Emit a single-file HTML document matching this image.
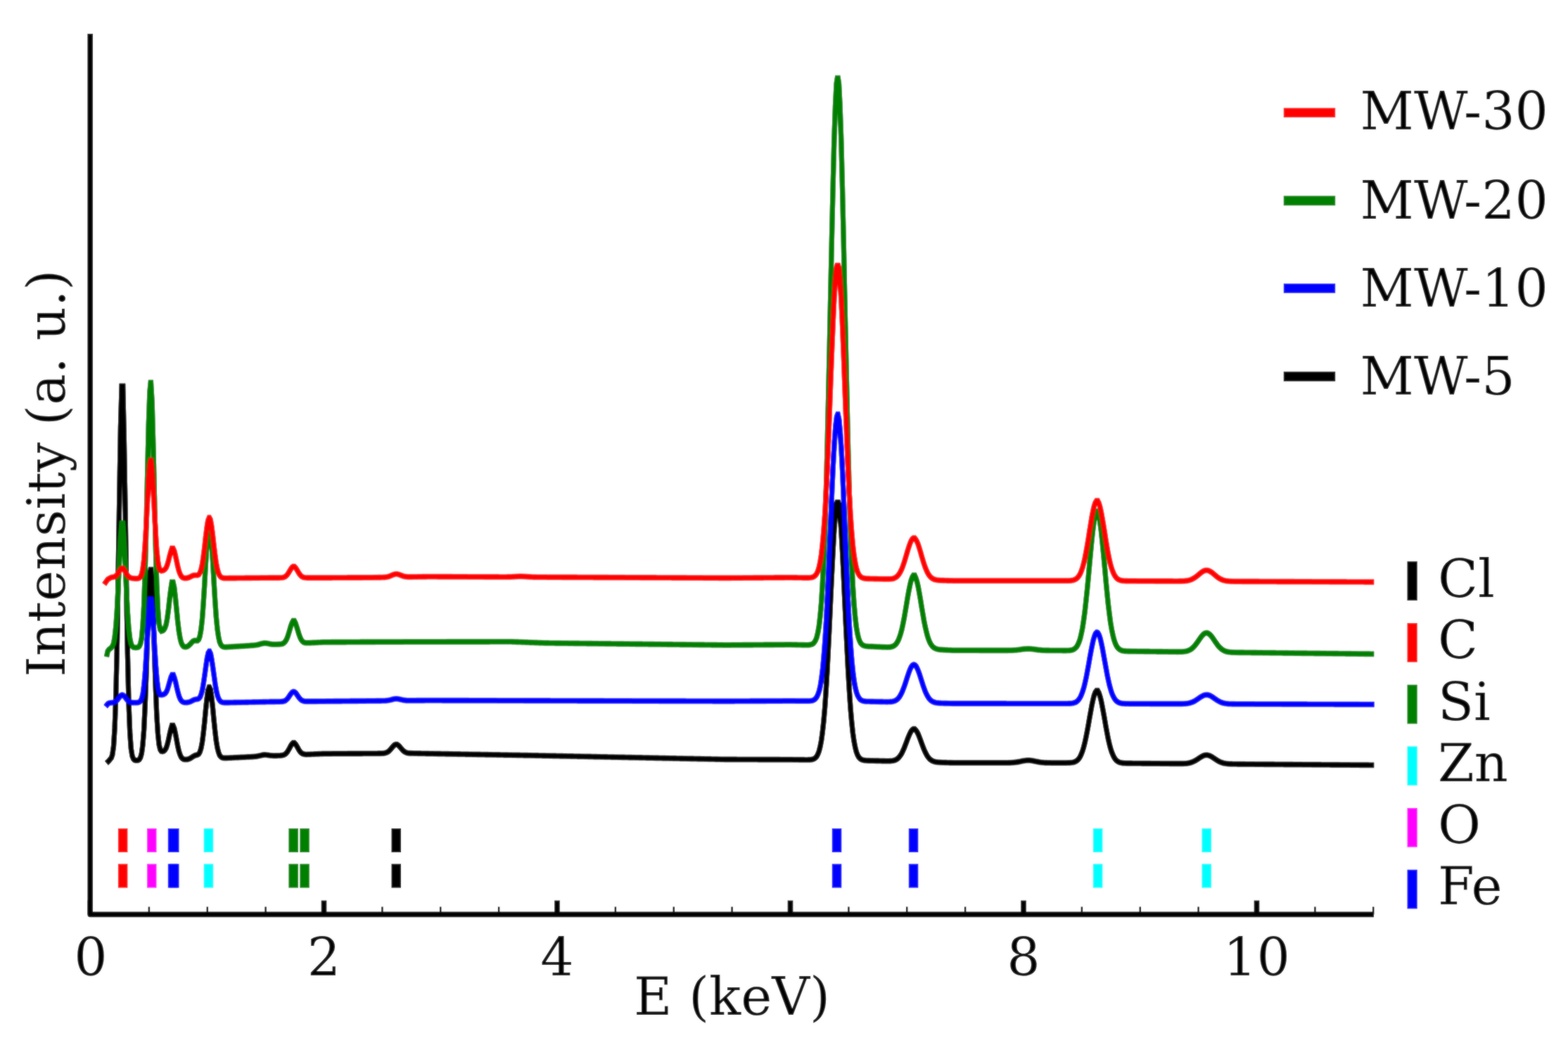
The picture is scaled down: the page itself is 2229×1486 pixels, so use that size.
<!DOCTYPE html>
<html><head><meta charset="utf-8"><title>EDS spectra</title>
<style>html,body{margin:0;padding:0;background:#fff;}body{width:2229px;height:1486px;overflow:hidden;}svg{display:block;}</style>
</head><body>
<svg width="2229" height="1486" viewBox="0 0 2229 1486">
<defs><filter id="soft" x="0" y="0" width="2229" height="1486" filterUnits="userSpaceOnUse"><feGaussianBlur stdDeviation="1"/></filter></defs>
<g id="content">
<rect x="0" y="0" width="2229" height="1486" fill="#ffffff"/>
<g fill="none" stroke="#000000" stroke-width="7.20" stroke-linejoin="miter" stroke-miterlimit="3" stroke-linecap="butt">
<path id="c_black" d="M151.5 1085.0 L153.2 1083.5 L154.9 1081.8 L156.5 1079.7 L158.2 1077.8 L159.8 1073.1 L161.5 1061.1 L163.1 1035.2 L164.8 988.0 L166.5 913.7 L168.1 814.3 L169.8 703.8 L171.4 607.8 L173.1 549.0 L173.8 549.0 L174.7 549.0 L176.4 624.4 L178.1 725.7 L179.7 835.7 L181.4 930.8 L183.0 999.5 L184.7 1041.9 L186.3 1064.5 L188.0 1075.0 L189.7 1079.3 L191.3 1080.8 L193.0 1081.3 L194.6 1081.3 L196.3 1081.0 L198.0 1080.0 L199.6 1077.4 L201.3 1071.6 L202.9 1059.7 L204.6 1038.2 L206.2 1004.4 L207.9 958.2 L209.6 904.7 L211.2 854.1 L212.9 819.4 L214.2 810.0 L214.5 810.0 L216.2 830.4 L217.8 872.7 L219.5 925.6 L221.2 976.4 L222.8 1016.8 L224.5 1043.8 L226.1 1059.0 L227.8 1066.0 L229.4 1068.3 L231.1 1068.6 L231.4 1068.5 L232.8 1068.0 L234.4 1066.7 L236.1 1064.0 L237.7 1059.3 L239.4 1052.6 L241.0 1044.7 L242.7 1037.3 L244.4 1031.5 L245.5 1031.5 L246.0 1031.5 L247.7 1035.5 L249.3 1042.7 L251.0 1051.7 L252.6 1060.6 L254.3 1068.0 L256.0 1073.3 L257.6 1076.7 L259.3 1078.6 L260.9 1079.6 L262.6 1079.9 L264.3 1080.0 L265.9 1079.9 L267.6 1079.5 L269.2 1079.0 L270.9 1078.1 L272.5 1077.1 L274.2 1075.9 L275.9 1074.9 L277.5 1074.2 L278.2 1074.0 L279.2 1073.7 L280.8 1073.3 L282.5 1072.2 L284.1 1069.5 L285.8 1064.2 L287.5 1055.5 L289.1 1042.9 L290.8 1027.0 L292.4 1009.7 L294.1 993.6 L295.7 981.9 L297.4 977.0 L297.6 977.0 L299.1 980.2 L300.7 990.6 L302.4 1005.9 L304.0 1023.2 L305.7 1039.6 L307.3 1053.2 L309.0 1063.3 L310.7 1070.0 L312.3 1074.1 L314.0 1076.2 L315.6 1077.3 L317.3 1077.8 L318.9 1077.9 L320.6 1077.9 L322.3 1077.9 L323.9 1077.8 L325.6 1077.7 L327.2 1077.6 L328.9 1077.6 L330.6 1077.5 L332.2 1077.4 L333.9 1077.3 L335.5 1077.2 L337.2 1077.2 L338.8 1077.1 L340.5 1077.0 L342.2 1076.9 L343.8 1076.8 L345.5 1076.8 L347.1 1076.7 L348.8 1076.6 L350.4 1076.5 L352.1 1076.4 L353.8 1076.4 L355.4 1076.3 L357.1 1076.2 L358.7 1076.1 L360.4 1076.0 L362.0 1075.8 L363.7 1075.7 L365.4 1075.4 L367.0 1075.1 L368.7 1074.7 L370.3 1074.4 L372.0 1074.0 L373.6 1073.6 L375.3 1073.4 L376.0 1073.4 L377.0 1073.4 L378.6 1073.5 L380.3 1073.7 L381.9 1073.9 L383.6 1074.2 L385.2 1074.4 L386.9 1074.5 L388.6 1074.6 L390.2 1074.7 L391.9 1074.6 L393.5 1074.6 L395.2 1074.5 L396.9 1074.5 L398.5 1074.4 L400.2 1074.2 L401.8 1073.9 L403.5 1073.4 L405.1 1072.6 L406.8 1071.2 L408.5 1069.2 L410.1 1066.5 L411.8 1063.5 L413.4 1060.4 L415.1 1057.9 L416.7 1056.4 L417.4 1056.4 L418.4 1056.4 L420.1 1058.1 L421.7 1060.6 L423.4 1063.6 L425.0 1066.5 L426.7 1068.9 L428.3 1070.6 L430.0 1071.7 L431.7 1072.3 L433.3 1072.6 L435.0 1072.8 L436.6 1072.8 L438.3 1072.7 L439.9 1072.7 L441.6 1072.6 L443.3 1072.5 L444.9 1072.5 L446.6 1072.4 L448.2 1072.3 L449.9 1072.2 L451.5 1072.2 L453.2 1072.1 L454.9 1072.0 L456.5 1072.0 L458.2 1071.9 L459.8 1071.8 L461.5 1071.8 L463.2 1071.8 L464.8 1071.8 L466.5 1071.8 L468.1 1071.8 L469.8 1071.8 L471.4 1071.8 L473.1 1071.7 L474.8 1071.7 L476.4 1071.7 L478.1 1071.7 L479.7 1071.7 L481.4 1071.7 L483.0 1071.7 L484.7 1071.7 L486.4 1071.7 L488.0 1071.7 L489.7 1071.7 L491.3 1071.7 L493.0 1071.7 L494.6 1071.6 L496.3 1071.6 L498.0 1071.6 L499.6 1071.6 L501.3 1071.6 L502.9 1071.6 L504.6 1071.6 L506.2 1071.6 L507.9 1071.6 L509.6 1071.6 L511.2 1071.6 L512.9 1071.6 L514.5 1071.6 L516.2 1071.5 L517.8 1071.5 L519.5 1071.5 L521.2 1071.5 L522.8 1071.5 L524.5 1071.5 L526.1 1071.5 L527.8 1071.5 L529.5 1071.5 L531.1 1071.5 L532.8 1071.5 L534.4 1071.5 L536.1 1071.5 L537.7 1071.4 L539.4 1071.4 L541.1 1071.4 L542.7 1071.3 L544.4 1071.3 L546.0 1071.1 L547.7 1070.7 L549.3 1070.2 L551.0 1069.4 L552.7 1068.2 L554.3 1066.6 L556.0 1064.7 L557.6 1062.7 L559.3 1060.8 L560.9 1059.3 L562.6 1058.5 L563.3 1058.5 L564.3 1058.5 L565.9 1059.5 L567.6 1061.1 L569.2 1063.0 L570.9 1065.0 L572.5 1066.8 L574.2 1068.3 L575.9 1069.4 L577.5 1070.2 L579.2 1070.7 L580.8 1070.9 L582.5 1071.1 L584.1 1071.1 L585.8 1071.2 L587.5 1071.2 L589.1 1071.3 L590.8 1071.3 L592.4 1071.3 L594.1 1071.4 L595.8 1071.4 L597.4 1071.4 L599.1 1071.5 L600.7 1071.5 L602.4 1071.5 L604.0 1071.5 L605.7 1071.6 L607.4 1071.6 L609.0 1071.6 L610.7 1071.7 L612.3 1071.7 L614.0 1071.7 L615.6 1071.7 L617.3 1071.8 L619.0 1071.8 L620.6 1071.8 L622.3 1071.9 L623.9 1071.9 L625.6 1071.9 L627.2 1072.0 L628.9 1072.0 L630.6 1072.0 L632.2 1072.0 L633.9 1072.1 L635.5 1072.1 L637.2 1072.1 L638.8 1072.2 L640.5 1072.2 L642.2 1072.2 L643.8 1072.3 L645.5 1072.3 L647.1 1072.3 L648.8 1072.3 L650.4 1072.4 L652.1 1072.4 L653.8 1072.4 L655.4 1072.5 L657.1 1072.5 L658.7 1072.5 L660.4 1072.5 L662.1 1072.6 L663.7 1072.6 L665.4 1072.6 L667.0 1072.7 L668.7 1072.7 L670.3 1072.7 L672.0 1072.8 L673.7 1072.8 L675.3 1072.8 L677.0 1072.8 L678.6 1072.9 L680.3 1072.9 L681.9 1072.9 L683.6 1073.0 L685.3 1073.0 L686.9 1073.0 L688.6 1073.0 L690.2 1073.1 L691.9 1073.1 L693.5 1073.1 L695.2 1073.2 L696.9 1073.2 L698.5 1073.2 L700.2 1073.3 L701.8 1073.3 L703.5 1073.3 L705.1 1073.3 L706.8 1073.4 L708.5 1073.4 L710.1 1073.4 L711.8 1073.5 L713.4 1073.5 L715.1 1073.5 L716.7 1073.6 L718.4 1073.6 L720.1 1073.6 L721.7 1073.6 L723.4 1073.7 L725.0 1073.7 L726.7 1073.7 L728.4 1073.8 L730.0 1073.8 L731.7 1073.8 L733.3 1073.8 L735.0 1073.9 L736.6 1073.9 L738.3 1073.9 L740.0 1074.0 L741.6 1074.0 L743.3 1074.0 L744.9 1074.1 L746.6 1074.1 L748.2 1074.1 L749.9 1074.1 L751.6 1074.2 L753.2 1074.2 L754.9 1074.2 L756.5 1074.3 L758.2 1074.3 L759.8 1074.3 L761.5 1074.4 L763.2 1074.4 L764.8 1074.4 L766.5 1074.5 L768.1 1074.5 L769.8 1074.5 L771.4 1074.6 L773.1 1074.6 L774.8 1074.6 L776.4 1074.7 L778.1 1074.7 L779.7 1074.7 L781.4 1074.8 L783.0 1074.8 L784.7 1074.8 L786.4 1074.9 L788.0 1074.9 L789.7 1074.9 L791.3 1075.0 L793.0 1075.0 L794.7 1075.0 L796.3 1075.1 L798.0 1075.1 L799.6 1075.1 L801.3 1075.2 L802.9 1075.2 L804.6 1075.2 L806.3 1075.3 L807.9 1075.3 L809.6 1075.3 L811.2 1075.4 L812.9 1075.4 L814.5 1075.4 L816.2 1075.5 L817.9 1075.5 L819.5 1075.5 L821.2 1075.6 L822.8 1075.6 L824.5 1075.6 L826.1 1075.7 L827.8 1075.7 L829.5 1075.7 L831.1 1075.8 L832.8 1075.8 L834.4 1075.8 L836.1 1075.9 L837.7 1075.9 L839.4 1075.9 L841.1 1076.0 L842.7 1076.0 L844.4 1076.1 L846.0 1076.1 L847.7 1076.1 L849.3 1076.2 L851.0 1076.2 L852.7 1076.2 L854.3 1076.3 L856.0 1076.3 L857.6 1076.3 L859.3 1076.4 L861.0 1076.4 L862.6 1076.4 L864.3 1076.5 L865.9 1076.5 L867.6 1076.5 L869.2 1076.6 L870.9 1076.6 L872.6 1076.6 L874.2 1076.7 L875.9 1076.7 L877.5 1076.7 L879.2 1076.8 L880.8 1076.8 L882.5 1076.8 L884.2 1076.9 L885.8 1076.9 L887.5 1076.9 L889.1 1077.0 L890.8 1077.0 L892.4 1077.0 L894.1 1077.1 L895.8 1077.1 L897.4 1077.1 L899.1 1077.2 L900.7 1077.2 L902.4 1077.2 L904.0 1077.3 L905.7 1077.3 L907.4 1077.3 L909.0 1077.4 L910.7 1077.4 L912.3 1077.4 L914.0 1077.5 L915.6 1077.5 L917.3 1077.5 L919.0 1077.6 L920.6 1077.6 L922.3 1077.6 L923.9 1077.7 L925.6 1077.7 L927.3 1077.7 L928.9 1077.8 L930.6 1077.8 L932.2 1077.9 L933.9 1077.9 L935.5 1077.9 L937.2 1078.0 L938.9 1078.0 L940.5 1078.0 L942.2 1078.1 L943.8 1078.1 L945.5 1078.1 L947.1 1078.2 L948.8 1078.2 L950.5 1078.2 L952.1 1078.3 L953.8 1078.3 L955.4 1078.3 L957.1 1078.4 L958.7 1078.4 L960.4 1078.4 L962.1 1078.5 L963.7 1078.5 L965.4 1078.5 L967.0 1078.6 L968.7 1078.6 L970.3 1078.6 L972.0 1078.7 L973.7 1078.7 L975.3 1078.7 L977.0 1078.8 L978.6 1078.8 L980.3 1078.8 L981.9 1078.9 L983.6 1078.9 L985.3 1078.9 L986.9 1079.0 L988.6 1079.0 L990.2 1079.0 L991.9 1079.1 L993.6 1079.1 L995.2 1079.1 L996.9 1079.2 L998.5 1079.2 L1000.2 1079.2 L1001.8 1079.3 L1003.5 1079.3 L1005.2 1079.3 L1006.8 1079.4 L1008.5 1079.4 L1010.1 1079.4 L1011.8 1079.5 L1013.4 1079.5 L1015.1 1079.5 L1016.8 1079.6 L1018.4 1079.6 L1020.1 1079.6 L1021.7 1079.7 L1023.4 1079.7 L1025.0 1079.8 L1026.7 1079.8 L1028.4 1079.8 L1030.0 1079.9 L1031.7 1079.9 L1033.3 1079.9 L1035.0 1079.9 L1036.6 1079.9 L1038.3 1079.9 L1040.0 1079.9 L1041.6 1079.9 L1043.3 1079.9 L1044.9 1079.9 L1046.6 1079.9 L1048.2 1080.0 L1049.9 1080.0 L1051.6 1080.0 L1053.2 1080.0 L1054.9 1080.0 L1056.5 1080.0 L1058.2 1080.0 L1059.9 1080.0 L1061.5 1080.0 L1063.2 1080.0 L1064.8 1080.0 L1066.5 1080.0 L1068.1 1080.0 L1069.8 1080.0 L1071.5 1080.0 L1073.1 1080.0 L1074.8 1080.0 L1076.4 1080.0 L1078.1 1080.1 L1079.7 1080.1 L1081.4 1080.1 L1083.1 1080.1 L1084.7 1080.1 L1086.4 1080.1 L1088.0 1080.1 L1089.7 1080.1 L1091.3 1080.1 L1093.0 1080.1 L1094.7 1080.1 L1096.3 1080.1 L1098.0 1080.1 L1099.6 1080.1 L1101.3 1080.1 L1102.9 1080.1 L1104.6 1080.1 L1106.3 1080.1 L1107.9 1080.1 L1109.6 1080.2 L1111.2 1080.2 L1112.9 1080.2 L1114.5 1080.2 L1116.2 1080.2 L1117.9 1080.2 L1119.5 1080.2 L1121.2 1080.2 L1122.8 1080.2 L1124.5 1080.2 L1126.2 1080.2 L1127.8 1080.3 L1129.5 1080.3 L1131.1 1080.3 L1132.8 1080.3 L1134.4 1080.3 L1136.1 1080.4 L1137.8 1080.4 L1139.4 1080.4 L1141.1 1080.4 L1142.7 1080.4 L1144.4 1080.5 L1146.0 1080.5 L1147.7 1080.5 L1149.4 1080.4 L1151.0 1080.4 L1152.7 1080.2 L1154.3 1080.0 L1156.0 1079.5 L1157.6 1078.8 L1159.3 1077.5 L1161.0 1075.6 L1162.6 1072.6 L1164.3 1068.2 L1165.9 1061.9 L1167.6 1053.1 L1169.2 1041.3 L1170.9 1025.8 L1172.6 1006.3 L1174.2 982.5 L1175.9 954.4 L1177.5 922.6 L1179.2 887.9 L1180.8 851.7 L1182.5 815.8 L1184.2 782.3 L1185.8 753.3 L1187.5 731.0 L1189.1 716.8 L1190.8 712.0 L1190.8 712.0 L1192.5 716.9 L1194.1 731.1 L1195.8 753.5 L1197.4 782.5 L1199.1 816.0 L1200.7 851.9 L1202.4 888.2 L1204.1 922.9 L1205.7 954.8 L1207.4 982.9 L1209.0 1006.8 L1210.7 1026.4 L1212.3 1041.9 L1214.0 1053.7 L1215.7 1062.6 L1217.3 1068.9 L1219.0 1073.4 L1220.6 1076.4 L1222.3 1078.4 L1223.9 1079.6 L1225.6 1080.4 L1227.3 1080.9 L1228.9 1081.2 L1230.6 1081.4 L1232.2 1081.5 L1233.9 1081.6 L1235.5 1081.6 L1237.2 1081.7 L1238.9 1081.7 L1240.5 1081.7 L1242.2 1081.8 L1243.8 1081.8 L1245.5 1081.9 L1247.1 1081.9 L1248.8 1081.9 L1250.5 1082.0 L1252.1 1082.0 L1253.8 1082.1 L1255.4 1082.1 L1257.1 1082.1 L1258.8 1082.2 L1260.4 1082.2 L1262.1 1082.2 L1263.7 1082.2 L1265.4 1082.1 L1267.0 1082.0 L1268.7 1081.8 L1270.4 1081.5 L1272.0 1081.0 L1273.7 1080.3 L1275.3 1079.3 L1277.0 1077.9 L1278.6 1076.1 L1280.3 1073.8 L1282.0 1071.0 L1283.6 1067.6 L1285.3 1063.8 L1286.9 1059.6 L1288.6 1055.2 L1290.2 1050.8 L1291.9 1046.6 L1293.6 1042.8 L1295.2 1039.8 L1296.9 1037.7 L1298.5 1036.6 L1299.2 1036.6 L1300.2 1036.6 L1301.8 1038.2 L1303.5 1040.5 L1305.2 1043.8 L1306.8 1047.8 L1308.5 1052.2 L1310.1 1056.7 L1311.8 1061.2 L1313.4 1065.4 L1315.1 1069.2 L1316.8 1072.5 L1318.4 1075.3 L1320.1 1077.6 L1321.7 1079.4 L1323.4 1080.7 L1325.1 1081.8 L1326.7 1082.5 L1328.4 1083.1 L1330.0 1083.5 L1331.7 1083.7 L1333.3 1083.9 L1335.0 1084.0 L1336.7 1084.1 L1338.3 1084.2 L1340.0 1084.3 L1341.6 1084.3 L1343.3 1084.4 L1344.9 1084.4 L1346.6 1084.5 L1348.3 1084.5 L1349.9 1084.6 L1351.6 1084.6 L1353.2 1084.6 L1354.9 1084.7 L1356.5 1084.7 L1358.2 1084.7 L1359.9 1084.7 L1361.5 1084.7 L1363.2 1084.7 L1364.8 1084.7 L1366.5 1084.7 L1368.1 1084.7 L1369.8 1084.7 L1371.5 1084.7 L1373.1 1084.7 L1374.8 1084.7 L1376.4 1084.7 L1378.1 1084.7 L1379.7 1084.7 L1381.4 1084.7 L1383.1 1084.7 L1384.7 1084.7 L1386.4 1084.7 L1388.0 1084.7 L1389.7 1084.7 L1391.4 1084.7 L1393.0 1084.7 L1394.7 1084.7 L1396.3 1084.7 L1398.0 1084.7 L1399.6 1084.7 L1401.3 1084.7 L1403.0 1084.7 L1404.6 1084.7 L1406.3 1084.7 L1407.9 1084.7 L1409.6 1084.7 L1411.2 1084.7 L1412.9 1084.7 L1414.6 1084.7 L1416.2 1084.7 L1417.9 1084.7 L1419.5 1084.7 L1421.2 1084.7 L1422.8 1084.7 L1424.5 1084.7 L1426.2 1084.7 L1427.8 1084.7 L1429.5 1084.7 L1431.1 1084.7 L1432.8 1084.7 L1434.4 1084.6 L1436.1 1084.6 L1437.8 1084.5 L1439.4 1084.4 L1441.1 1084.3 L1442.7 1084.1 L1444.4 1083.9 L1446.0 1083.6 L1447.7 1083.4 L1449.4 1083.0 L1451.0 1082.7 L1452.7 1082.3 L1454.3 1082.0 L1456.0 1081.7 L1457.7 1081.5 L1459.3 1081.3 L1461.0 1081.2 L1461.6 1081.2 L1462.6 1081.2 L1464.3 1081.3 L1465.9 1081.5 L1467.6 1081.8 L1469.3 1082.1 L1470.9 1082.4 L1472.6 1082.8 L1474.2 1083.1 L1475.9 1083.4 L1477.5 1083.7 L1479.2 1084.0 L1480.9 1084.2 L1482.5 1084.3 L1484.2 1084.5 L1485.8 1084.6 L1487.5 1084.6 L1489.1 1084.7 L1490.8 1084.7 L1492.5 1084.7 L1494.1 1084.8 L1495.8 1084.8 L1497.4 1084.8 L1499.1 1084.8 L1500.7 1084.8 L1502.4 1084.8 L1504.1 1084.8 L1505.7 1084.8 L1507.4 1084.8 L1509.0 1084.8 L1510.7 1084.8 L1512.3 1084.8 L1514.0 1084.8 L1515.7 1084.8 L1517.3 1084.7 L1519.0 1084.7 L1520.6 1084.6 L1522.3 1084.5 L1524.0 1084.3 L1525.6 1084.0 L1527.3 1083.6 L1528.9 1082.9 L1530.6 1081.9 L1532.2 1080.5 L1533.9 1078.5 L1535.6 1075.8 L1537.2 1072.3 L1538.9 1067.9 L1540.5 1062.5 L1542.2 1055.9 L1543.8 1048.4 L1545.5 1039.9 L1547.2 1030.7 L1548.8 1021.2 L1550.5 1011.8 L1552.1 1002.9 L1553.8 995.0 L1555.4 988.7 L1557.1 984.3 L1558.8 982.0 L1559.4 982.0 L1560.4 982.0 L1562.1 985.1 L1563.7 989.9 L1565.4 996.6 L1567.0 1004.7 L1568.7 1013.8 L1570.4 1023.3 L1572.0 1032.8 L1573.7 1041.8 L1575.3 1050.2 L1577.0 1057.6 L1578.6 1063.9 L1580.3 1069.2 L1582.0 1073.4 L1583.6 1076.8 L1585.3 1079.3 L1586.9 1081.2 L1588.6 1082.6 L1590.3 1083.5 L1591.9 1084.2 L1593.6 1084.6 L1595.2 1084.9 L1596.9 1085.1 L1598.5 1085.2 L1600.2 1085.3 L1601.9 1085.4 L1603.5 1085.4 L1605.2 1085.4 L1606.8 1085.4 L1608.5 1085.4 L1610.1 1085.5 L1611.8 1085.5 L1613.5 1085.5 L1615.1 1085.5 L1616.8 1085.5 L1618.4 1085.5 L1620.1 1085.5 L1621.7 1085.5 L1623.4 1085.6 L1625.1 1085.6 L1626.7 1085.6 L1628.4 1085.6 L1630.0 1085.6 L1631.7 1085.6 L1633.3 1085.6 L1635.0 1085.6 L1636.7 1085.7 L1638.3 1085.7 L1640.0 1085.7 L1641.6 1085.7 L1643.3 1085.7 L1644.9 1085.7 L1646.6 1085.7 L1648.3 1085.7 L1649.9 1085.8 L1651.6 1085.8 L1653.2 1085.8 L1654.9 1085.8 L1656.6 1085.8 L1658.2 1085.8 L1659.9 1085.8 L1661.5 1085.8 L1663.2 1085.9 L1664.8 1085.9 L1666.5 1085.9 L1668.2 1085.9 L1669.8 1085.9 L1671.5 1085.9 L1673.1 1085.9 L1674.8 1085.9 L1676.4 1085.9 L1678.1 1085.9 L1679.8 1085.9 L1681.4 1085.9 L1683.1 1085.8 L1684.7 1085.7 L1686.4 1085.6 L1688.0 1085.4 L1689.7 1085.1 L1691.4 1084.7 L1693.0 1084.3 L1694.7 1083.7 L1696.3 1083.0 L1698.0 1082.2 L1699.6 1081.3 L1701.3 1080.3 L1703.0 1079.2 L1704.6 1078.1 L1706.3 1077.0 L1707.9 1076.0 L1709.6 1075.1 L1711.2 1074.4 L1712.9 1073.9 L1714.6 1073.7 L1715.2 1073.7 L1716.2 1073.7 L1717.9 1074.1 L1719.5 1074.6 L1721.2 1075.4 L1722.9 1076.3 L1724.5 1077.4 L1726.2 1078.5 L1727.8 1079.6 L1729.5 1080.7 L1731.1 1081.7 L1732.8 1082.7 L1734.5 1083.5 L1736.1 1084.2 L1737.8 1084.7 L1739.4 1085.2 L1741.1 1085.5 L1742.7 1085.8 L1744.4 1086.0 L1746.1 1086.2 L1747.7 1086.3 L1749.4 1086.4 L1751.0 1086.4 L1752.7 1086.5 L1754.3 1086.5 L1756.0 1086.5 L1757.7 1086.5 L1759.3 1086.6 L1761.0 1086.6 L1762.6 1086.6 L1764.3 1086.6 L1765.9 1086.6 L1767.6 1086.6 L1769.3 1086.6 L1770.9 1086.7 L1772.6 1086.7 L1774.2 1086.7 L1775.9 1086.7 L1777.5 1086.7 L1779.2 1086.7 L1780.9 1086.7 L1782.5 1086.7 L1784.2 1086.8 L1785.8 1086.8 L1787.5 1086.8 L1789.2 1086.8 L1790.8 1086.8 L1792.5 1086.8 L1794.1 1086.8 L1795.8 1086.8 L1797.4 1086.9 L1799.1 1086.9 L1800.8 1086.9 L1802.4 1086.9 L1804.1 1086.9 L1805.7 1086.9 L1807.4 1086.9 L1809.0 1086.9 L1810.7 1086.9 L1812.4 1087.0 L1814.0 1087.0 L1815.7 1087.0 L1817.3 1087.0 L1819.0 1087.0 L1820.6 1087.0 L1822.3 1087.0 L1824.0 1087.0 L1825.6 1087.1 L1827.3 1087.1 L1828.9 1087.1 L1830.6 1087.1 L1832.2 1087.1 L1833.9 1087.1 L1835.6 1087.1 L1837.2 1087.1 L1838.9 1087.2 L1840.5 1087.2 L1842.2 1087.2 L1843.8 1087.2 L1845.5 1087.2 L1847.2 1087.2 L1848.8 1087.2 L1850.5 1087.2 L1852.1 1087.3 L1853.8 1087.3 L1855.5 1087.3 L1857.1 1087.3 L1858.8 1087.3 L1860.4 1087.3 L1862.1 1087.3 L1863.7 1087.3 L1865.4 1087.4 L1867.1 1087.4 L1868.7 1087.4 L1870.4 1087.4 L1872.0 1087.4 L1873.7 1087.4 L1875.3 1087.4 L1877.0 1087.4 L1878.7 1087.5 L1880.3 1087.5 L1882.0 1087.5 L1883.6 1087.5 L1885.3 1087.5 L1886.9 1087.5 L1888.6 1087.5 L1890.3 1087.5 L1891.9 1087.6 L1893.6 1087.6 L1895.2 1087.6 L1896.9 1087.6 L1898.5 1087.6 L1900.2 1087.6 L1901.9 1087.6 L1903.5 1087.6 L1905.2 1087.7 L1906.8 1087.7 L1908.5 1087.7 L1910.1 1087.7 L1911.8 1087.7 L1913.5 1087.7 L1915.1 1087.7 L1916.8 1087.7 L1918.4 1087.7 L1920.1 1087.8 L1921.8 1087.8 L1923.4 1087.8 L1925.1 1087.8 L1926.7 1087.8 L1928.4 1087.8 L1930.0 1087.8 L1931.7 1087.8 L1933.4 1087.9 L1935.0 1087.9 L1936.7 1087.9 L1938.3 1087.9 L1940.0 1087.9 L1941.6 1087.9 L1943.3 1087.9 L1945.0 1087.9 L1946.6 1088.0 L1948.3 1088.0 L1949.9 1088.0 L1951.6 1088.0 L1953.2 1088.0"/>
<use href="#c_black" transform="translate(0 -0.7)" opacity="0.5"/>
<use href="#c_black" transform="translate(0 0.7)" opacity="0.5"/>
</g>
<g fill="none" stroke="#0000ff" stroke-width="7.20" stroke-linejoin="miter" stroke-miterlimit="3" stroke-linecap="butt">
<path id="c_blue" d="M150.2 1004.6 L151.9 1002.6 L153.5 1000.7 L155.2 999.8 L156.8 999.5 L158.5 999.2 L160.2 999.0 L161.8 998.7 L163.5 998.1 L165.1 997.0 L166.8 995.4 L168.4 993.2 L170.1 991.0 L171.8 989.1 L173.4 988.2 L173.8 988.2 L175.1 988.6 L176.7 990.1 L178.4 992.3 L180.1 994.6 L181.7 996.4 L183.4 997.7 L185.0 998.5 L186.7 998.9 L188.3 999.1 L190.0 999.2 L191.7 999.2 L193.3 999.2 L195.0 999.1 L196.6 998.9 L198.3 998.2 L199.9 996.6 L201.6 993.0 L203.3 985.6 L204.9 972.7 L206.6 953.0 L208.2 926.8 L209.9 897.5 L211.5 871.3 L213.2 852.0 L214.2 852.0 L214.9 852.0 L216.5 866.9 L218.2 891.5 L219.8 920.3 L221.5 946.7 L223.1 966.7 L224.8 979.3 L226.5 985.7 L228.1 988.0 L229.8 988.2 L231.4 987.8 L231.4 987.8 L233.1 987.2 L234.7 986.2 L236.4 984.0 L238.1 980.3 L239.7 974.8 L241.4 968.6 L243.0 963.1 L244.7 959.5 L245.5 959.5 L246.4 959.5 L248.0 963.8 L249.7 970.1 L251.3 977.5 L253.0 984.5 L254.6 990.2 L256.3 994.2 L258.0 996.7 L259.6 998.0 L261.3 998.7 L262.9 999.0 L264.6 999.0 L266.2 998.9 L267.9 998.6 L269.6 998.1 L271.2 997.5 L272.9 996.6 L274.5 995.8 L276.2 995.0 L277.8 994.6 L278.2 994.5 L279.5 994.3 L281.2 994.0 L282.8 993.2 L284.5 991.1 L286.1 987.0 L287.8 980.3 L289.4 970.8 L291.1 959.2 L292.8 946.8 L294.4 935.8 L296.1 928.3 L297.6 926.0 L297.7 926.0 L299.4 929.5 L301.0 937.8 L302.7 949.4 L304.4 961.8 L306.0 973.3 L307.7 982.7 L309.3 989.5 L311.0 993.9 L312.7 996.5 L314.3 998.0 L316.0 998.7 L317.6 999.0 L319.3 999.1 L320.9 999.1 L322.6 999.1 L324.3 999.1 L325.9 999.1 L327.6 999.0 L329.2 999.0 L330.9 999.0 L332.5 998.9 L334.2 998.9 L335.9 998.9 L337.5 998.8 L339.2 998.8 L340.8 998.8 L342.5 998.8 L344.1 998.7 L345.8 998.7 L347.5 998.7 L349.1 998.6 L350.8 998.6 L352.4 998.6 L354.1 998.5 L355.7 998.5 L357.4 998.5 L359.1 998.4 L360.7 998.4 L362.4 998.4 L364.0 998.3 L365.7 998.3 L367.3 998.3 L369.0 998.2 L370.7 998.2 L372.3 998.2 L374.0 998.1 L375.6 998.1 L377.3 998.1 L379.0 998.0 L380.6 998.0 L382.3 998.0 L383.9 997.9 L385.6 997.9 L387.2 997.9 L388.9 997.9 L390.6 997.9 L392.2 997.8 L393.9 997.8 L395.5 997.8 L397.2 997.8 L398.8 997.7 L400.5 997.6 L402.2 997.4 L403.8 997.0 L405.5 996.3 L407.1 995.1 L408.8 993.4 L410.4 991.2 L412.1 988.6 L413.8 986.2 L415.4 984.4 L417.1 983.5 L417.4 983.5 L418.7 983.9 L420.4 985.3 L422.0 987.6 L423.7 990.1 L425.4 992.4 L427.0 994.3 L428.7 995.7 L430.3 996.5 L432.0 997.0 L433.6 997.3 L435.3 997.4 L437.0 997.4 L438.6 997.4 L440.3 997.4 L441.9 997.4 L443.6 997.4 L445.3 997.4 L446.9 997.4 L448.6 997.4 L450.2 997.4 L451.9 997.3 L453.5 997.3 L455.2 997.3 L456.9 997.3 L458.5 997.3 L460.2 997.3 L461.8 997.3 L463.5 997.2 L465.1 997.2 L466.8 997.2 L468.5 997.2 L470.1 997.2 L471.8 997.2 L473.4 997.2 L475.1 997.1 L476.7 997.1 L478.4 997.1 L480.1 997.1 L481.7 997.1 L483.4 997.1 L485.0 997.1 L486.7 997.0 L488.3 997.0 L490.0 997.0 L491.7 997.0 L493.3 997.0 L495.0 997.0 L496.6 997.0 L498.3 996.9 L499.9 996.9 L501.6 996.9 L503.3 996.9 L504.9 996.9 L506.6 996.9 L508.2 996.9 L509.9 996.8 L511.6 996.8 L513.2 996.8 L514.9 996.8 L516.5 996.8 L518.2 996.8 L519.8 996.8 L521.5 996.7 L523.2 996.7 L524.8 996.7 L526.5 996.7 L528.1 996.7 L529.8 996.7 L531.4 996.7 L533.1 996.7 L534.8 996.6 L536.4 996.6 L538.1 996.6 L539.7 996.6 L541.4 996.6 L543.0 996.5 L544.7 996.5 L546.4 996.5 L548.0 996.4 L549.7 996.2 L551.3 996.0 L553.0 995.7 L554.6 995.4 L556.3 995.0 L558.0 994.5 L559.6 994.1 L561.3 993.8 L562.9 993.7 L563.3 993.7 L564.6 993.7 L566.2 994.0 L567.9 994.3 L569.6 994.7 L571.2 995.1 L572.9 995.4 L574.5 995.7 L576.2 995.9 L577.9 996.1 L579.5 996.2 L581.2 996.2 L582.8 996.2 L584.5 996.2 L586.1 996.2 L587.8 996.2 L589.5 996.2 L591.1 996.2 L592.8 996.1 L594.4 996.1 L596.1 996.1 L597.7 996.1 L599.4 996.1 L601.1 996.1 L602.7 996.1 L604.4 996.0 L606.0 996.0 L607.7 996.0 L609.3 996.0 L611.0 996.0 L612.7 996.0 L614.3 996.0 L616.0 996.0 L617.6 996.0 L619.3 996.0 L620.9 996.0 L622.6 996.0 L624.3 996.0 L625.9 996.0 L627.6 996.0 L629.2 996.1 L630.9 996.1 L632.5 996.1 L634.2 996.1 L635.9 996.1 L637.5 996.1 L639.2 996.1 L640.8 996.1 L642.5 996.1 L644.2 996.1 L645.8 996.1 L647.5 996.1 L649.1 996.1 L650.8 996.1 L652.4 996.1 L654.1 996.1 L655.8 996.1 L657.4 996.1 L659.1 996.1 L660.7 996.1 L662.4 996.1 L664.0 996.1 L665.7 996.1 L667.4 996.2 L669.0 996.2 L670.7 996.2 L672.3 996.2 L674.0 996.2 L675.6 996.2 L677.3 996.2 L679.0 996.2 L680.6 996.2 L682.3 996.2 L683.9 996.2 L685.6 996.2 L687.2 996.2 L688.9 996.2 L690.6 996.2 L692.2 996.2 L693.9 996.2 L695.5 996.2 L697.2 996.2 L698.8 996.2 L700.5 996.2 L702.2 996.2 L703.8 996.2 L705.5 996.2 L707.1 996.3 L708.8 996.3 L710.5 996.3 L712.1 996.3 L713.8 996.3 L715.4 996.3 L717.1 996.3 L718.7 996.3 L720.4 996.3 L722.1 996.3 L723.7 996.3 L725.4 996.3 L727.0 996.3 L728.7 996.3 L730.3 996.3 L732.0 996.3 L733.7 996.3 L735.3 996.3 L737.0 996.3 L738.6 996.3 L740.3 996.3 L741.9 996.3 L743.6 996.3 L745.3 996.4 L746.9 996.4 L748.6 996.4 L750.2 996.4 L751.9 996.4 L753.5 996.4 L755.2 996.4 L756.9 996.4 L758.5 996.4 L760.2 996.4 L761.8 996.4 L763.5 996.4 L765.1 996.4 L766.8 996.4 L768.5 996.4 L770.1 996.4 L771.8 996.4 L773.4 996.4 L775.1 996.4 L776.8 996.4 L778.4 996.4 L780.1 996.4 L781.7 996.4 L783.4 996.5 L785.0 996.5 L786.7 996.5 L788.4 996.5 L790.0 996.5 L791.7 996.5 L793.3 996.5 L795.0 996.5 L796.6 996.5 L798.3 996.5 L800.0 996.5 L801.6 996.5 L803.3 996.5 L804.9 996.5 L806.6 996.5 L808.2 996.5 L809.9 996.5 L811.6 996.5 L813.2 996.5 L814.9 996.5 L816.5 996.5 L818.2 996.5 L819.8 996.5 L821.5 996.6 L823.2 996.6 L824.8 996.6 L826.5 996.6 L828.1 996.6 L829.8 996.6 L831.4 996.6 L833.1 996.6 L834.8 996.6 L836.4 996.6 L838.1 996.6 L839.7 996.6 L841.4 996.6 L843.1 996.6 L844.7 996.6 L846.4 996.6 L848.0 996.6 L849.7 996.6 L851.3 996.6 L853.0 996.6 L854.7 996.6 L856.3 996.6 L858.0 996.6 L859.6 996.7 L861.3 996.7 L862.9 996.7 L864.6 996.7 L866.3 996.7 L867.9 996.7 L869.6 996.7 L871.2 996.7 L872.9 996.7 L874.5 996.7 L876.2 996.7 L877.9 996.7 L879.5 996.7 L881.2 996.7 L882.8 996.7 L884.5 996.7 L886.1 996.7 L887.8 996.7 L889.5 996.7 L891.1 996.7 L892.8 996.7 L894.4 996.7 L896.1 996.7 L897.7 996.7 L899.4 996.8 L901.1 996.8 L902.7 996.8 L904.4 996.8 L906.0 996.8 L907.7 996.8 L909.4 996.8 L911.0 996.8 L912.7 996.8 L914.3 996.8 L916.0 996.8 L917.6 996.8 L919.3 996.8 L921.0 996.8 L922.6 996.8 L924.3 996.8 L925.9 996.8 L927.6 996.8 L929.2 996.8 L930.9 996.8 L932.6 996.8 L934.2 996.8 L935.9 996.8 L937.5 996.9 L939.2 996.9 L940.8 996.9 L942.5 996.9 L944.2 996.9 L945.8 996.9 L947.5 996.9 L949.1 996.9 L950.8 996.9 L952.4 996.9 L954.1 996.9 L955.8 996.9 L957.4 996.9 L959.1 996.9 L960.7 996.9 L962.4 996.9 L964.0 996.9 L965.7 996.9 L967.4 996.9 L969.0 996.9 L970.7 996.9 L972.3 996.9 L974.0 996.9 L975.7 997.0 L977.3 997.0 L979.0 997.0 L980.6 997.0 L982.3 997.0 L983.9 997.0 L985.6 997.0 L987.3 997.0 L988.9 997.0 L990.6 997.0 L992.2 997.0 L993.9 997.0 L995.5 997.0 L997.2 997.0 L998.9 997.0 L1000.5 997.0 L1002.2 997.0 L1003.8 997.0 L1005.5 997.0 L1007.1 997.0 L1008.8 997.0 L1010.5 997.0 L1012.1 997.0 L1013.8 997.1 L1015.4 997.1 L1017.1 997.1 L1018.7 997.1 L1020.4 997.1 L1022.1 997.1 L1023.7 997.1 L1025.4 997.1 L1027.0 997.1 L1028.7 997.1 L1030.3 997.1 L1032.0 997.1 L1033.7 997.1 L1035.3 997.1 L1037.0 997.1 L1038.6 997.1 L1040.3 997.1 L1042.0 997.1 L1043.6 997.1 L1045.3 997.0 L1046.9 997.0 L1048.6 997.0 L1050.2 997.0 L1051.9 997.0 L1053.6 997.0 L1055.2 997.0 L1056.9 997.0 L1058.5 997.0 L1060.2 997.0 L1061.8 997.0 L1063.5 997.0 L1065.2 997.0 L1066.8 996.9 L1068.5 996.9 L1070.1 996.9 L1071.8 996.9 L1073.4 996.9 L1075.1 996.9 L1076.8 996.9 L1078.4 996.9 L1080.1 996.9 L1081.7 996.9 L1083.4 996.9 L1085.0 996.9 L1086.7 996.9 L1088.4 996.9 L1090.0 996.8 L1091.7 996.8 L1093.3 996.8 L1095.0 996.8 L1096.6 996.8 L1098.3 996.8 L1100.0 996.8 L1101.6 996.8 L1103.3 996.8 L1104.9 996.8 L1106.6 996.8 L1108.3 996.8 L1109.9 996.8 L1111.6 996.8 L1113.2 996.7 L1114.9 996.7 L1116.5 996.7 L1118.2 996.7 L1119.9 996.7 L1121.5 996.7 L1123.2 996.7 L1124.8 996.7 L1126.5 996.7 L1128.1 996.7 L1129.8 996.7 L1131.5 996.8 L1133.1 996.8 L1134.8 996.8 L1136.4 996.8 L1138.1 996.8 L1139.7 996.8 L1141.4 996.8 L1143.1 996.8 L1144.7 996.8 L1146.4 996.8 L1148.0 996.8 L1149.7 996.8 L1151.3 996.7 L1153.0 996.5 L1154.7 996.2 L1156.3 995.6 L1158.0 994.7 L1159.6 993.2 L1161.3 990.8 L1162.9 987.2 L1164.6 982.0 L1166.3 974.5 L1167.9 964.1 L1169.6 950.3 L1171.2 932.3 L1172.9 909.8 L1174.6 882.5 L1176.2 850.5 L1177.9 814.5 L1179.5 775.7 L1181.2 735.5 L1182.8 696.2 L1184.5 659.9 L1186.2 629.2 L1187.8 606.1 L1189.5 592.4 L1190.8 589.0 L1191.1 589.0 L1192.8 596.7 L1194.4 614.3 L1196.1 640.7 L1197.8 674.0 L1199.4 711.8 L1201.1 751.8 L1202.7 791.6 L1204.4 829.6 L1206.0 864.0 L1207.7 894.2 L1209.4 919.7 L1211.0 940.4 L1212.7 956.6 L1214.3 969.0 L1216.0 978.2 L1217.6 984.7 L1219.3 989.3 L1221.0 992.3 L1222.6 994.4 L1224.3 995.6 L1225.9 996.4 L1227.6 996.9 L1229.2 997.2 L1230.9 997.4 L1232.6 997.5 L1234.2 997.5 L1235.9 997.5 L1237.5 997.6 L1239.2 997.6 L1240.9 997.6 L1242.5 997.7 L1244.2 997.7 L1245.8 997.8 L1247.5 997.8 L1249.1 997.8 L1250.8 997.9 L1252.5 997.9 L1254.1 997.9 L1255.8 998.0 L1257.4 998.0 L1259.1 998.0 L1260.7 998.1 L1262.4 998.0 L1264.1 998.0 L1265.7 997.9 L1267.4 997.8 L1269.0 997.5 L1270.7 997.1 L1272.3 996.5 L1274.0 995.6 L1275.7 994.3 L1277.3 992.6 L1279.0 990.4 L1280.6 987.6 L1282.3 984.2 L1283.9 980.2 L1285.6 975.7 L1287.3 970.8 L1288.9 965.6 L1290.6 960.5 L1292.2 955.7 L1293.9 951.5 L1295.5 948.1 L1297.2 945.9 L1298.9 945.0 L1299.2 945.0 L1300.5 945.5 L1302.2 947.2 L1303.8 950.2 L1305.5 954.2 L1307.2 958.9 L1308.8 964.0 L1310.5 969.3 L1312.1 974.4 L1313.8 979.2 L1315.4 983.5 L1317.1 987.2 L1318.8 990.3 L1320.4 992.8 L1322.1 994.8 L1323.7 996.3 L1325.4 997.4 L1327.0 998.2 L1328.7 998.8 L1330.4 999.2 L1332.0 999.5 L1333.7 999.6 L1335.3 999.8 L1337.0 999.9 L1338.6 1000.0 L1340.3 1000.0 L1342.0 1000.1 L1343.6 1000.1 L1345.3 1000.1 L1346.9 1000.2 L1348.6 1000.2 L1350.2 1000.3 L1351.9 1000.3 L1353.6 1000.4 L1355.2 1000.4 L1356.9 1000.4 L1358.5 1000.4 L1360.2 1000.4 L1361.8 1000.4 L1363.5 1000.4 L1365.2 1000.4 L1366.8 1000.4 L1368.5 1000.4 L1370.1 1000.4 L1371.8 1000.4 L1373.5 1000.4 L1375.1 1000.4 L1376.8 1000.4 L1378.4 1000.4 L1380.1 1000.4 L1381.7 1000.4 L1383.4 1000.4 L1385.1 1000.4 L1386.7 1000.4 L1388.4 1000.4 L1390.0 1000.4 L1391.7 1000.4 L1393.3 1000.4 L1395.0 1000.4 L1396.7 1000.4 L1398.3 1000.4 L1400.0 1000.4 L1401.6 1000.4 L1403.3 1000.4 L1404.9 1000.4 L1406.6 1000.4 L1408.3 1000.4 L1409.9 1000.4 L1411.6 1000.4 L1413.2 1000.4 L1414.9 1000.4 L1416.5 1000.4 L1418.2 1000.4 L1419.9 1000.4 L1421.5 1000.4 L1423.2 1000.4 L1424.8 1000.4 L1426.5 1000.4 L1428.1 1000.4 L1429.8 1000.4 L1431.5 1000.5 L1433.1 1000.5 L1434.8 1000.5 L1436.4 1000.5 L1438.1 1000.5 L1439.8 1000.5 L1441.4 1000.5 L1443.1 1000.5 L1444.7 1000.5 L1446.4 1000.5 L1448.0 1000.5 L1449.7 1000.5 L1451.4 1000.5 L1453.0 1000.5 L1454.7 1000.5 L1456.3 1000.5 L1458.0 1000.5 L1459.6 1000.5 L1461.3 1000.5 L1463.0 1000.5 L1464.6 1000.5 L1466.3 1000.5 L1467.9 1000.5 L1469.6 1000.5 L1471.2 1000.5 L1472.9 1000.5 L1474.6 1000.5 L1476.2 1000.5 L1477.9 1000.5 L1479.5 1000.5 L1481.2 1000.5 L1482.8 1000.5 L1484.5 1000.5 L1486.2 1000.5 L1487.8 1000.5 L1489.5 1000.5 L1491.1 1000.5 L1492.8 1000.5 L1494.4 1000.5 L1496.1 1000.5 L1497.8 1000.5 L1499.4 1000.5 L1501.1 1000.5 L1502.7 1000.5 L1504.4 1000.5 L1506.1 1000.5 L1507.7 1000.5 L1509.4 1000.5 L1511.0 1000.5 L1512.7 1000.5 L1514.3 1000.5 L1516.0 1000.5 L1517.7 1000.5 L1519.3 1000.4 L1521.0 1000.4 L1522.6 1000.2 L1524.3 1000.0 L1525.9 999.7 L1527.6 999.2 L1529.3 998.5 L1530.9 997.4 L1532.6 995.9 L1534.2 993.8 L1535.9 991.0 L1537.5 987.4 L1539.2 982.8 L1540.9 977.2 L1542.5 970.6 L1544.2 962.9 L1545.8 954.4 L1547.5 945.2 L1549.1 935.8 L1550.8 926.6 L1552.5 918.0 L1554.1 910.5 L1555.8 904.6 L1557.4 900.7 L1559.1 899.0 L1559.4 899.0 L1560.7 899.8 L1562.4 902.8 L1564.1 907.9 L1565.7 914.8 L1567.4 923.1 L1569.0 932.1 L1570.7 941.5 L1572.4 950.8 L1574.0 959.7 L1575.7 967.7 L1577.3 974.8 L1579.0 980.8 L1580.6 985.8 L1582.3 989.8 L1584.0 992.9 L1585.6 995.3 L1587.3 997.0 L1588.9 998.2 L1590.6 999.1 L1592.2 999.7 L1593.9 1000.1 L1595.6 1000.4 L1597.2 1000.5 L1598.9 1000.6 L1600.5 1000.7 L1602.2 1000.7 L1603.8 1000.7 L1605.5 1000.8 L1607.2 1000.8 L1608.8 1000.8 L1610.5 1000.8 L1612.1 1000.8 L1613.8 1000.8 L1615.4 1000.8 L1617.1 1000.8 L1618.8 1000.8 L1620.4 1000.8 L1622.1 1000.8 L1623.7 1000.8 L1625.4 1000.8 L1627.0 1000.8 L1628.7 1000.8 L1630.4 1000.8 L1632.0 1000.8 L1633.7 1000.8 L1635.3 1000.9 L1637.0 1000.9 L1638.7 1000.9 L1640.3 1000.9 L1642.0 1000.9 L1643.6 1000.9 L1645.3 1000.9 L1646.9 1000.9 L1648.6 1000.9 L1650.3 1000.9 L1651.9 1000.9 L1653.6 1000.9 L1655.2 1000.9 L1656.9 1000.9 L1658.5 1000.9 L1660.2 1000.9 L1661.9 1000.9 L1663.5 1000.9 L1665.2 1000.9 L1666.8 1000.9 L1668.5 1000.9 L1670.1 1000.9 L1671.8 1000.9 L1673.5 1000.9 L1675.1 1000.9 L1676.8 1000.9 L1678.4 1000.9 L1680.1 1000.9 L1681.7 1000.8 L1683.4 1000.7 L1685.1 1000.6 L1686.7 1000.5 L1688.4 1000.2 L1690.0 999.9 L1691.7 999.5 L1693.3 999.0 L1695.0 998.4 L1696.7 997.7 L1698.3 996.8 L1700.0 995.8 L1701.6 994.7 L1703.3 993.6 L1705.0 992.4 L1706.6 991.3 L1708.3 990.3 L1709.9 989.4 L1711.6 988.7 L1713.2 988.2 L1714.9 988.0 L1715.2 988.0 L1716.6 988.1 L1718.2 988.5 L1719.9 989.1 L1721.5 989.9 L1723.2 990.9 L1724.8 992.0 L1726.5 993.2 L1728.2 994.3 L1729.8 995.5 L1731.5 996.5 L1733.1 997.4 L1734.8 998.2 L1736.4 998.9 L1738.1 999.5 L1739.8 999.9 L1741.4 1000.3 L1743.1 1000.5 L1744.7 1000.7 L1746.4 1000.9 L1748.0 1001.0 L1749.7 1001.0 L1751.4 1001.1 L1753.0 1001.1 L1754.7 1001.1 L1756.3 1001.2 L1758.0 1001.2 L1759.6 1001.2 L1761.3 1001.2 L1763.0 1001.2 L1764.6 1001.2 L1766.3 1001.2 L1767.9 1001.2 L1769.6 1001.2 L1771.3 1001.2 L1772.9 1001.2 L1774.6 1001.2 L1776.2 1001.2 L1777.9 1001.2 L1779.5 1001.2 L1781.2 1001.2 L1782.9 1001.2 L1784.5 1001.3 L1786.2 1001.3 L1787.8 1001.3 L1789.5 1001.3 L1791.1 1001.3 L1792.8 1001.3 L1794.5 1001.3 L1796.1 1001.3 L1797.8 1001.3 L1799.4 1001.3 L1801.1 1001.3 L1802.7 1001.3 L1804.4 1001.3 L1806.1 1001.3 L1807.7 1001.3 L1809.4 1001.3 L1811.0 1001.3 L1812.7 1001.3 L1814.3 1001.3 L1816.0 1001.3 L1817.7 1001.3 L1819.3 1001.3 L1821.0 1001.3 L1822.6 1001.4 L1824.3 1001.4 L1825.9 1001.4 L1827.6 1001.4 L1829.3 1001.4 L1830.9 1001.4 L1832.6 1001.4 L1834.2 1001.4 L1835.9 1001.4 L1837.6 1001.4 L1839.2 1001.4 L1840.9 1001.4 L1842.5 1001.4 L1844.2 1001.4 L1845.8 1001.4 L1847.5 1001.4 L1849.2 1001.4 L1850.8 1001.4 L1852.5 1001.4 L1854.1 1001.4 L1855.8 1001.4 L1857.4 1001.4 L1859.1 1001.5 L1860.8 1001.5 L1862.4 1001.5 L1864.1 1001.5 L1865.7 1001.5 L1867.4 1001.5 L1869.0 1001.5 L1870.7 1001.5 L1872.4 1001.5 L1874.0 1001.5 L1875.7 1001.5 L1877.3 1001.5 L1879.0 1001.5 L1880.6 1001.5 L1882.3 1001.5 L1884.0 1001.5 L1885.6 1001.5 L1887.3 1001.5 L1888.9 1001.5 L1890.6 1001.5 L1892.2 1001.5 L1893.9 1001.5 L1895.6 1001.5 L1897.2 1001.6 L1898.9 1001.6 L1900.5 1001.6 L1902.2 1001.6 L1903.9 1001.6 L1905.5 1001.6 L1907.2 1001.6 L1908.8 1001.6 L1910.5 1001.6 L1912.1 1001.6 L1913.8 1001.6 L1915.5 1001.6 L1917.1 1001.6 L1918.8 1001.6 L1920.4 1001.6 L1922.1 1001.6 L1923.7 1001.6 L1925.4 1001.6 L1927.1 1001.6 L1928.7 1001.6 L1930.4 1001.6 L1932.0 1001.6 L1933.7 1001.7 L1935.3 1001.7 L1937.0 1001.7 L1938.7 1001.7 L1940.3 1001.7 L1942.0 1001.7 L1943.6 1001.7 L1945.3 1001.7 L1946.9 1001.7 L1948.6 1001.7 L1950.3 1001.7 L1951.9 1001.7 L1953.6 1001.7"/>
<use href="#c_blue" transform="translate(0 -0.7)" opacity="0.5"/>
<use href="#c_blue" transform="translate(0 0.7)" opacity="0.5"/>
</g>
<g fill="none" stroke="#008000" stroke-width="7.20" stroke-linejoin="miter" stroke-miterlimit="3" stroke-linecap="butt">
<path id="c_green" d="M151.5 933.8 L153.2 926.0 L154.9 923.6 L156.5 922.5 L158.2 921.0 L159.8 919.0 L161.5 914.9 L163.1 906.2 L164.8 890.4 L166.5 865.6 L168.1 832.5 L169.8 795.7 L171.4 763.6 L173.1 744.0 L173.8 744.0 L174.7 744.0 L176.4 769.1 L178.1 802.8 L179.7 839.4 L181.4 871.0 L183.0 893.9 L184.7 908.0 L186.3 915.5 L188.0 919.0 L189.7 920.4 L191.3 920.8 L193.0 920.9 L194.6 920.8 L196.3 920.4 L198.0 919.0 L199.6 915.5 L201.3 907.5 L202.9 890.9 L204.6 861.1 L206.2 814.1 L207.9 749.9 L209.6 675.5 L211.2 605.3 L212.9 557.0 L214.2 544.0 L214.5 544.0 L216.2 572.4 L217.8 631.1 L219.5 704.3 L221.2 774.6 L222.8 830.1 L224.5 866.8 L226.1 886.8 L227.8 895.3 L229.4 897.4 L231.1 896.8 L231.4 896.8 L232.8 895.7 L234.4 893.2 L236.1 888.4 L237.7 879.8 L239.4 867.3 L241.0 852.5 L242.7 838.7 L244.4 827.8 L245.5 827.8 L246.0 827.8 L247.7 835.4 L249.3 849.2 L251.0 866.3 L252.6 883.1 L254.3 897.2 L256.0 907.3 L257.6 913.8 L259.3 917.4 L260.9 919.2 L262.6 919.9 L264.3 919.9 L265.9 919.5 L267.6 918.6 L269.2 917.2 L270.9 915.5 L272.5 913.6 L274.2 912.0 L275.9 911.1 L276.5 910.9 L277.5 910.8 L279.2 911.1 L280.8 911.0 L282.5 909.4 L284.1 904.8 L285.8 895.5 L287.5 880.2 L289.1 858.4 L290.8 831.2 L292.4 801.6 L294.1 774.2 L295.7 754.2 L297.4 746.0 L297.6 746.0 L299.1 751.6 L300.7 769.4 L302.4 795.8 L304.0 825.5 L305.7 853.6 L307.3 877.0 L309.0 894.4 L310.7 906.0 L312.3 913.0 L314.0 916.9 L315.6 918.8 L317.3 919.7 L318.9 920.1 L320.6 920.2 L322.3 920.1 L323.9 920.0 L325.6 919.9 L327.2 919.8 L328.9 919.7 L330.6 919.6 L332.2 919.5 L333.9 919.4 L335.5 919.3 L337.2 919.2 L338.8 919.1 L340.5 919.0 L342.2 918.9 L343.8 918.8 L345.5 918.7 L347.1 918.6 L348.8 918.5 L350.4 918.4 L352.1 918.3 L353.8 918.2 L355.4 918.0 L357.1 917.9 L358.7 917.8 L360.4 917.7 L362.0 917.5 L363.7 917.3 L365.4 917.0 L367.0 916.7 L368.7 916.2 L370.3 915.7 L372.0 915.3 L373.6 914.9 L375.3 914.6 L376.0 914.6 L377.0 914.6 L378.6 914.7 L380.3 915.0 L381.9 915.3 L383.6 915.7 L385.2 915.9 L386.9 916.2 L388.6 916.3 L390.2 916.3 L391.9 916.3 L393.5 916.3 L395.2 916.2 L396.9 916.1 L398.5 916.0 L400.2 915.7 L401.8 915.3 L403.5 914.4 L405.1 912.8 L406.8 910.3 L408.5 906.6 L410.1 901.7 L411.8 896.0 L413.4 890.3 L415.1 885.7 L416.7 882.9 L417.4 882.9 L418.4 882.9 L420.1 886.2 L421.7 891.0 L423.4 896.6 L425.0 902.0 L426.7 906.6 L428.3 909.9 L430.0 912.0 L431.7 913.3 L433.3 913.9 L435.0 914.2 L436.6 914.2 L438.3 914.2 L439.9 914.2 L441.6 914.1 L443.3 914.0 L444.9 913.9 L446.6 913.9 L448.2 913.8 L449.9 913.7 L451.5 913.6 L453.2 913.5 L454.9 913.5 L456.5 913.4 L458.2 913.3 L459.8 913.2 L461.5 913.2 L463.2 913.2 L464.8 913.2 L466.5 913.2 L468.1 913.2 L469.8 913.2 L471.4 913.1 L473.1 913.1 L474.8 913.1 L476.4 913.1 L478.1 913.1 L479.7 913.1 L481.4 913.1 L483.0 913.1 L484.7 913.1 L486.4 913.1 L488.0 913.1 L489.7 913.1 L491.3 913.1 L493.0 913.0 L494.6 913.0 L496.3 913.0 L498.0 913.0 L499.6 913.0 L501.3 913.0 L502.9 913.0 L504.6 913.0 L506.2 913.0 L507.9 913.0 L509.6 913.0 L511.2 913.0 L512.9 912.9 L514.5 912.9 L516.2 912.9 L517.8 912.9 L519.5 912.9 L521.2 912.9 L522.8 912.9 L524.5 912.9 L526.1 912.9 L527.8 912.9 L529.5 912.9 L531.1 912.9 L532.8 912.9 L534.4 912.8 L536.1 912.8 L537.7 912.8 L539.4 912.8 L541.1 912.8 L542.7 912.8 L544.4 912.8 L546.0 912.8 L547.7 912.8 L549.3 912.8 L551.0 912.8 L552.7 912.8 L554.3 912.8 L556.0 912.8 L557.6 912.8 L559.3 912.8 L560.9 912.8 L562.6 912.8 L564.3 912.8 L565.9 912.8 L567.6 912.8 L569.2 912.8 L570.9 912.8 L572.5 912.8 L574.2 912.7 L575.9 912.7 L577.5 912.7 L579.2 912.7 L580.8 912.7 L582.5 912.7 L584.1 912.7 L585.8 912.7 L587.5 912.7 L589.1 912.7 L590.8 912.7 L592.4 912.7 L594.1 912.7 L595.8 912.7 L597.4 912.7 L599.1 912.7 L600.7 912.7 L602.4 912.7 L604.0 912.7 L605.7 912.7 L607.4 912.7 L609.0 912.7 L610.7 912.7 L612.3 912.7 L614.0 912.7 L615.6 912.7 L617.3 912.7 L619.0 912.7 L620.6 912.7 L622.3 912.7 L623.9 912.7 L625.6 912.7 L627.2 912.7 L628.9 912.7 L630.6 912.7 L632.2 912.7 L633.9 912.7 L635.5 912.6 L637.2 912.6 L638.8 912.6 L640.5 912.6 L642.2 912.6 L643.8 912.6 L645.5 912.6 L647.1 912.6 L648.8 912.6 L650.4 912.6 L652.1 912.6 L653.8 912.6 L655.4 912.6 L657.1 912.6 L658.7 912.6 L660.4 912.6 L662.1 912.6 L663.7 912.6 L665.4 912.6 L667.0 912.6 L668.7 912.6 L670.3 912.6 L672.0 912.6 L673.7 912.6 L675.3 912.6 L677.0 912.6 L678.6 912.6 L680.3 912.6 L681.9 912.6 L683.6 912.6 L685.3 912.6 L686.9 912.6 L688.6 912.6 L690.2 912.6 L691.9 912.6 L693.5 912.6 L695.2 912.6 L696.9 912.5 L698.5 912.5 L700.2 912.5 L701.8 912.5 L703.5 912.5 L705.1 912.5 L706.8 912.5 L708.5 912.5 L710.1 912.5 L711.8 912.5 L713.4 912.5 L715.1 912.5 L716.7 912.5 L718.4 912.5 L720.1 912.5 L721.7 912.5 L723.4 912.5 L725.0 912.5 L726.7 912.5 L728.4 912.6 L730.0 912.7 L731.7 912.7 L733.3 912.8 L735.0 912.9 L736.6 912.9 L738.3 913.0 L740.0 913.0 L741.6 913.1 L743.3 913.2 L744.9 913.2 L746.6 913.3 L748.2 913.4 L749.9 913.4 L751.6 913.5 L753.2 913.6 L754.9 913.6 L756.5 913.7 L758.2 913.7 L759.8 913.8 L761.5 913.9 L763.2 913.9 L764.8 914.0 L766.5 914.1 L768.1 914.1 L769.8 914.2 L771.4 914.2 L773.1 914.3 L774.8 914.4 L776.4 914.4 L778.1 914.4 L779.7 914.4 L781.4 914.5 L783.0 914.5 L784.7 914.5 L786.4 914.5 L788.0 914.5 L789.7 914.6 L791.3 914.6 L793.0 914.6 L794.7 914.6 L796.3 914.6 L798.0 914.7 L799.6 914.7 L801.3 914.7 L802.9 914.7 L804.6 914.7 L806.3 914.7 L807.9 914.8 L809.6 914.8 L811.2 914.8 L812.9 914.8 L814.5 914.8 L816.2 914.9 L817.9 914.9 L819.5 914.9 L821.2 914.9 L822.8 914.9 L824.5 915.0 L826.1 915.0 L827.8 915.0 L829.5 915.0 L831.1 915.0 L832.8 915.0 L834.4 915.1 L836.1 915.1 L837.7 915.1 L839.4 915.1 L841.1 915.1 L842.7 915.2 L844.4 915.2 L846.0 915.2 L847.7 915.2 L849.3 915.2 L851.0 915.3 L852.7 915.3 L854.3 915.3 L856.0 915.3 L857.6 915.3 L859.3 915.3 L861.0 915.4 L862.6 915.4 L864.3 915.4 L865.9 915.4 L867.6 915.4 L869.2 915.5 L870.9 915.5 L872.6 915.5 L874.2 915.5 L875.9 915.5 L877.5 915.6 L879.2 915.6 L880.8 915.6 L882.5 915.6 L884.2 915.6 L885.8 915.6 L887.5 915.7 L889.1 915.7 L890.8 915.7 L892.4 915.7 L894.1 915.7 L895.8 915.8 L897.4 915.8 L899.1 915.8 L900.7 915.8 L902.4 915.8 L904.0 915.9 L905.7 915.9 L907.4 915.9 L909.0 915.9 L910.7 915.9 L912.3 915.9 L914.0 916.0 L915.6 916.0 L917.3 916.0 L919.0 916.0 L920.6 916.0 L922.3 916.1 L923.9 916.1 L925.6 916.1 L927.3 916.1 L928.9 916.1 L930.6 916.2 L932.2 916.2 L933.9 916.2 L935.5 916.2 L937.2 916.2 L938.9 916.2 L940.5 916.3 L942.2 916.3 L943.8 916.3 L945.5 916.3 L947.1 916.3 L948.8 916.4 L950.5 916.4 L952.1 916.4 L953.8 916.4 L955.4 916.4 L957.1 916.5 L958.7 916.5 L960.4 916.5 L962.1 916.5 L963.7 916.5 L965.4 916.5 L967.0 916.6 L968.7 916.6 L970.3 916.6 L972.0 916.6 L973.7 916.6 L975.3 916.7 L977.0 916.7 L978.6 916.7 L980.3 916.7 L981.9 916.7 L983.6 916.7 L985.3 916.8 L986.9 916.8 L988.6 916.8 L990.2 916.8 L991.9 916.8 L993.6 916.9 L995.2 916.9 L996.9 916.9 L998.5 916.9 L1000.2 916.9 L1001.8 917.0 L1003.5 917.0 L1005.2 917.0 L1006.8 917.0 L1008.5 917.0 L1010.1 917.0 L1011.8 917.1 L1013.4 917.1 L1015.1 917.1 L1016.8 917.1 L1018.4 917.1 L1020.1 917.2 L1021.7 917.2 L1023.4 917.2 L1025.0 917.2 L1026.7 917.2 L1028.4 917.3 L1030.0 917.3 L1031.7 917.3 L1033.3 917.3 L1035.0 917.3 L1036.6 917.3 L1038.3 917.3 L1040.0 917.2 L1041.6 917.2 L1043.3 917.2 L1044.9 917.2 L1046.6 917.2 L1048.2 917.2 L1049.9 917.2 L1051.6 917.2 L1053.2 917.2 L1054.9 917.2 L1056.5 917.1 L1058.2 917.1 L1059.9 917.1 L1061.5 917.1 L1063.2 917.1 L1064.8 917.1 L1066.5 917.1 L1068.1 917.1 L1069.8 917.1 L1071.5 917.0 L1073.1 917.0 L1074.8 917.0 L1076.4 917.0 L1078.1 917.0 L1079.7 917.0 L1081.4 917.0 L1083.1 917.0 L1084.7 917.0 L1086.4 916.9 L1088.0 916.9 L1089.7 916.9 L1091.3 916.9 L1093.0 916.9 L1094.7 916.9 L1096.3 916.9 L1098.0 916.9 L1099.6 916.9 L1101.3 916.8 L1102.9 916.8 L1104.6 916.8 L1106.3 916.8 L1107.9 916.8 L1109.6 916.8 L1111.2 916.8 L1112.9 916.8 L1114.5 916.8 L1116.2 916.7 L1117.9 916.7 L1119.5 916.7 L1121.2 916.7 L1122.8 916.7 L1124.5 916.7 L1126.2 916.8 L1127.8 916.8 L1129.5 916.8 L1131.1 916.9 L1132.8 916.9 L1134.4 917.0 L1136.1 917.0 L1137.8 917.0 L1139.4 917.1 L1141.1 917.1 L1142.7 917.1 L1144.4 917.2 L1146.0 917.2 L1147.7 917.2 L1149.4 917.1 L1151.0 916.9 L1152.7 916.6 L1154.3 916.1 L1156.0 915.1 L1157.6 913.4 L1159.3 910.7 L1161.0 906.4 L1162.6 899.9 L1164.3 890.2 L1165.9 876.3 L1167.6 857.1 L1169.2 831.1 L1170.9 797.1 L1172.6 754.3 L1174.2 701.9 L1175.9 640.3 L1177.5 570.4 L1179.2 494.1 L1180.8 414.7 L1182.5 335.9 L1184.2 262.4 L1185.8 198.8 L1187.5 149.7 L1189.1 118.6 L1190.8 108.0 L1190.8 108.0 L1192.5 118.7 L1194.1 149.8 L1195.8 199.0 L1197.4 262.7 L1199.1 336.3 L1200.7 415.1 L1202.4 494.7 L1204.1 571.0 L1205.7 641.0 L1207.4 702.7 L1209.0 755.1 L1210.7 798.1 L1212.3 832.1 L1214.0 858.1 L1215.7 877.5 L1217.3 891.4 L1219.0 901.2 L1220.6 907.8 L1222.3 912.2 L1223.9 915.0 L1225.6 916.7 L1227.3 917.8 L1228.9 918.4 L1230.6 918.8 L1232.2 919.0 L1233.9 919.2 L1235.5 919.3 L1237.2 919.3 L1238.9 919.4 L1240.5 919.4 L1242.2 919.5 L1243.8 919.6 L1245.5 919.7 L1247.1 919.8 L1248.8 919.8 L1250.5 919.9 L1252.1 920.0 L1253.8 920.1 L1255.4 920.1 L1257.1 920.2 L1258.8 920.2 L1260.4 920.3 L1262.1 920.3 L1263.7 920.2 L1265.4 920.1 L1267.0 919.8 L1268.7 919.3 L1270.4 918.6 L1272.0 917.5 L1273.7 915.9 L1275.3 913.6 L1277.0 910.5 L1278.6 906.4 L1280.3 901.3 L1282.0 895.0 L1283.6 887.5 L1285.3 879.0 L1286.9 869.6 L1288.6 859.7 L1290.2 849.8 L1291.9 840.4 L1293.6 832.0 L1295.2 825.2 L1296.9 820.5 L1298.5 818.0 L1299.2 818.0 L1300.2 818.0 L1301.8 821.5 L1303.5 826.8 L1305.2 834.1 L1306.8 842.9 L1308.5 852.6 L1310.1 862.7 L1311.8 872.7 L1313.4 882.1 L1315.1 890.6 L1316.8 898.0 L1318.4 904.2 L1320.1 909.3 L1321.7 913.3 L1323.4 916.3 L1325.1 918.6 L1326.7 920.3 L1328.4 921.5 L1330.0 922.3 L1331.7 922.9 L1333.3 923.3 L1335.0 923.6 L1336.7 923.8 L1338.3 923.9 L1340.0 924.0 L1341.6 924.1 L1343.3 924.2 L1344.9 924.3 L1346.6 924.4 L1348.3 924.5 L1349.9 924.5 L1351.6 924.6 L1353.2 924.7 L1354.9 924.8 L1356.5 924.8 L1358.2 924.8 L1359.9 924.8 L1361.5 924.8 L1363.2 924.8 L1364.8 924.8 L1366.5 924.8 L1368.1 924.8 L1369.8 924.8 L1371.5 924.8 L1373.1 924.8 L1374.8 924.8 L1376.4 924.8 L1378.1 924.8 L1379.7 924.8 L1381.4 924.8 L1383.1 924.8 L1384.7 924.8 L1386.4 924.8 L1388.0 924.8 L1389.7 924.8 L1391.4 924.8 L1393.0 924.9 L1394.7 924.9 L1396.3 924.9 L1398.0 924.9 L1399.6 924.9 L1401.3 924.9 L1403.0 924.9 L1404.6 924.9 L1406.3 924.9 L1407.9 924.9 L1409.6 924.9 L1411.2 924.9 L1412.9 924.9 L1414.6 924.9 L1416.2 924.9 L1417.9 924.9 L1419.5 924.9 L1421.2 924.9 L1422.8 924.9 L1424.5 924.9 L1426.2 924.9 L1427.8 924.9 L1429.5 924.9 L1431.1 924.9 L1432.8 924.9 L1434.4 924.8 L1436.1 924.8 L1437.8 924.8 L1439.4 924.7 L1441.1 924.6 L1442.7 924.5 L1444.4 924.4 L1446.0 924.2 L1447.7 924.0 L1449.4 923.8 L1451.0 923.6 L1452.7 923.3 L1454.3 923.1 L1456.0 922.9 L1457.7 922.8 L1459.3 922.7 L1461.0 922.6 L1461.6 922.6 L1462.6 922.6 L1464.3 922.7 L1465.9 922.8 L1467.6 923.0 L1469.3 923.2 L1470.9 923.4 L1472.6 923.6 L1474.2 923.9 L1475.9 924.1 L1477.5 924.3 L1479.2 924.4 L1480.9 924.6 L1482.5 924.7 L1484.2 924.8 L1485.8 924.8 L1487.5 924.9 L1489.1 924.9 L1490.8 924.9 L1492.5 925.0 L1494.1 925.0 L1495.8 925.0 L1497.4 925.0 L1499.1 925.0 L1500.7 925.0 L1502.4 925.0 L1504.1 925.0 L1505.7 925.0 L1507.4 925.0 L1509.0 925.0 L1510.7 925.1 L1512.3 925.1 L1514.0 925.1 L1515.7 925.1 L1517.3 925.0 L1519.0 925.0 L1520.6 924.9 L1522.3 924.6 L1524.0 924.3 L1525.6 923.7 L1527.3 922.8 L1528.9 921.5 L1530.6 919.6 L1532.2 916.8 L1533.9 913.0 L1535.6 907.8 L1537.2 901.1 L1538.9 892.6 L1540.5 882.1 L1542.2 869.5 L1543.8 854.9 L1545.5 838.6 L1547.2 820.9 L1548.8 802.6 L1550.5 784.4 L1552.1 767.2 L1553.8 752.1 L1555.4 739.9 L1557.1 731.5 L1558.8 727.0 L1559.4 727.0 L1560.4 727.0 L1562.1 732.9 L1563.7 742.2 L1565.4 755.0 L1567.0 770.7 L1568.7 788.2 L1570.4 806.5 L1572.0 824.8 L1573.7 842.3 L1575.3 858.3 L1577.0 872.5 L1578.6 884.8 L1580.3 894.9 L1582.0 903.1 L1583.6 909.5 L1585.3 914.4 L1586.9 918.0 L1588.6 920.7 L1590.3 922.5 L1591.9 923.8 L1593.6 924.6 L1595.2 925.2 L1596.9 925.5 L1598.5 925.8 L1600.2 925.9 L1601.9 926.0 L1603.5 926.1 L1605.2 926.1 L1606.8 926.1 L1608.5 926.2 L1610.1 926.2 L1611.8 926.2 L1613.5 926.2 L1615.1 926.2 L1616.8 926.3 L1618.4 926.3 L1620.1 926.3 L1621.7 926.3 L1623.4 926.3 L1625.1 926.3 L1626.7 926.4 L1628.4 926.4 L1630.0 926.4 L1631.7 926.4 L1633.3 926.4 L1635.0 926.5 L1636.7 926.5 L1638.3 926.5 L1640.0 926.5 L1641.6 926.5 L1643.3 926.5 L1644.9 926.6 L1646.6 926.6 L1648.3 926.6 L1649.9 926.6 L1651.6 926.6 L1653.2 926.7 L1654.9 926.7 L1656.6 926.7 L1658.2 926.7 L1659.9 926.7 L1661.5 926.8 L1663.2 926.8 L1664.8 926.8 L1666.5 926.8 L1668.2 926.8 L1669.8 926.8 L1671.5 926.8 L1673.1 926.9 L1674.8 926.9 L1676.4 926.8 L1678.1 926.8 L1679.8 926.8 L1681.4 926.7 L1683.1 926.5 L1684.7 926.3 L1686.4 926.0 L1688.0 925.6 L1689.7 925.0 L1691.4 924.2 L1693.0 923.2 L1694.7 922.0 L1696.3 920.5 L1698.0 918.7 L1699.6 916.7 L1701.3 914.5 L1703.0 912.1 L1704.6 909.7 L1706.3 907.3 L1707.9 905.1 L1709.6 903.2 L1711.2 901.6 L1712.9 900.5 L1714.6 900.0 L1715.2 900.0 L1716.2 900.0 L1717.9 900.8 L1719.5 902.0 L1721.2 903.7 L1722.9 905.7 L1724.5 908.0 L1726.2 910.4 L1727.8 912.9 L1729.5 915.2 L1731.1 917.5 L1732.8 919.5 L1734.5 921.2 L1736.1 922.7 L1737.8 923.9 L1739.4 924.9 L1741.1 925.7 L1742.7 926.3 L1744.4 926.7 L1746.1 927.1 L1747.7 927.3 L1749.4 927.5 L1751.0 927.6 L1752.7 927.7 L1754.3 927.7 L1756.0 927.8 L1757.7 927.8 L1759.3 927.8 L1761.0 927.9 L1762.6 927.9 L1764.3 927.9 L1765.9 927.9 L1767.6 927.9 L1769.3 928.0 L1770.9 928.0 L1772.6 928.0 L1774.2 928.0 L1775.9 928.0 L1777.5 928.0 L1779.2 928.1 L1780.9 928.1 L1782.5 928.1 L1784.2 928.1 L1785.8 928.1 L1787.5 928.2 L1789.2 928.2 L1790.8 928.2 L1792.5 928.2 L1794.1 928.2 L1795.8 928.3 L1797.4 928.3 L1799.1 928.3 L1800.8 928.3 L1802.4 928.3 L1804.1 928.3 L1805.7 928.4 L1807.4 928.4 L1809.0 928.4 L1810.7 928.4 L1812.4 928.4 L1814.0 928.5 L1815.7 928.5 L1817.3 928.5 L1819.0 928.5 L1820.6 928.5 L1822.3 928.5 L1824.0 928.6 L1825.6 928.6 L1827.3 928.6 L1828.9 928.6 L1830.6 928.6 L1832.2 928.7 L1833.9 928.7 L1835.6 928.7 L1837.2 928.7 L1838.9 928.7 L1840.5 928.8 L1842.2 928.8 L1843.8 928.8 L1845.5 928.8 L1847.2 928.8 L1848.8 928.8 L1850.5 928.9 L1852.1 928.9 L1853.8 928.9 L1855.5 928.9 L1857.1 928.9 L1858.8 929.0 L1860.4 929.0 L1862.1 929.0 L1863.7 929.0 L1865.4 929.0 L1867.1 929.0 L1868.7 929.1 L1870.4 929.1 L1872.0 929.1 L1873.7 929.1 L1875.3 929.1 L1877.0 929.2 L1878.7 929.2 L1880.3 929.2 L1882.0 929.2 L1883.6 929.2 L1885.3 929.3 L1886.9 929.3 L1888.6 929.3 L1890.3 929.3 L1891.9 929.3 L1893.6 929.3 L1895.2 929.4 L1896.9 929.4 L1898.5 929.4 L1900.2 929.4 L1901.9 929.4 L1903.5 929.5 L1905.2 929.5 L1906.8 929.5 L1908.5 929.5 L1910.1 929.5 L1911.8 929.5 L1913.5 929.6 L1915.1 929.6 L1916.8 929.6 L1918.4 929.6 L1920.1 929.6 L1921.8 929.7 L1923.4 929.7 L1925.1 929.7 L1926.7 929.7 L1928.4 929.7 L1930.0 929.8 L1931.7 929.8 L1933.4 929.8 L1935.0 929.8 L1936.7 929.8 L1938.3 929.8 L1940.0 929.9 L1941.6 929.9 L1943.3 929.9 L1945.0 929.9 L1946.6 929.9 L1948.3 930.0 L1949.9 930.0 L1951.6 930.0 L1953.2 930.0"/>
<use href="#c_green" transform="translate(0 -0.7)" opacity="0.5"/>
<use href="#c_green" transform="translate(0 0.7)" opacity="0.5"/>
</g>
<g fill="none" stroke="#ff0000" stroke-width="7.20" stroke-linejoin="miter" stroke-miterlimit="3" stroke-linecap="butt">
<path id="c_red" d="M148.2 830.8 L149.9 828.5 L151.5 826.2 L153.2 823.9 L154.9 822.8 L156.5 821.9 L158.2 821.1 L159.8 820.8 L161.5 820.5 L163.1 820.0 L164.8 818.9 L166.5 817.1 L168.1 814.6 L169.8 811.9 L171.4 809.6 L173.1 808.2 L173.8 808.2 L174.7 808.2 L176.4 810.2 L178.1 812.9 L179.7 815.8 L181.4 818.3 L183.0 820.1 L184.7 821.2 L186.3 821.9 L188.0 822.3 L189.7 822.5 L191.3 822.6 L193.0 822.7 L194.6 822.7 L196.3 822.5 L198.0 821.9 L199.6 820.4 L201.3 816.7 L202.9 809.4 L204.6 796.1 L206.2 775.1 L207.9 746.5 L209.6 713.3 L211.2 682.0 L212.9 660.5 L214.2 654.7 L214.5 654.7 L216.2 667.3 L217.8 693.5 L219.5 726.1 L221.2 757.4 L222.8 782.1 L224.5 798.3 L226.1 807.1 L227.8 810.8 L229.4 811.7 L231.1 811.4 L231.4 811.3 L232.8 810.8 L234.4 809.7 L236.1 807.5 L237.7 803.6 L239.4 797.9 L241.0 791.1 L242.7 784.7 L244.4 779.7 L245.5 779.7 L246.0 779.7 L247.7 783.2 L249.3 789.6 L251.0 797.4 L252.6 805.2 L254.3 811.7 L256.0 816.3 L257.6 819.3 L259.3 821.0 L260.9 821.8 L262.6 822.1 L264.3 822.1 L265.9 821.9 L267.6 821.5 L269.2 820.9 L270.9 820.1 L272.5 819.3 L274.2 818.5 L275.9 818.1 L276.5 818.0 L277.5 818.0 L279.2 818.0 L280.8 817.9 L282.5 817.1 L284.1 814.7 L285.8 810.1 L287.5 802.4 L289.1 791.7 L290.8 778.2 L292.4 763.5 L294.1 750.0 L295.7 740.1 L297.4 736.0 L297.6 736.0 L299.1 738.7 L300.7 747.6 L302.4 760.6 L304.0 775.3 L305.7 789.2 L307.3 800.8 L309.0 809.4 L310.7 815.1 L312.3 818.6 L314.0 820.5 L315.6 821.5 L317.3 821.9 L318.9 822.1 L320.6 822.2 L322.3 822.2 L323.9 822.2 L325.6 822.1 L327.2 822.1 L328.9 822.1 L330.6 822.1 L332.2 822.1 L333.9 822.1 L335.5 822.1 L337.2 822.0 L338.8 822.0 L340.5 822.0 L342.2 822.0 L343.8 822.0 L345.5 822.0 L347.1 822.0 L348.8 821.9 L350.4 821.9 L352.1 821.9 L353.8 821.9 L355.4 821.9 L357.1 821.9 L358.7 821.8 L360.4 821.8 L362.0 821.8 L363.7 821.8 L365.4 821.8 L367.0 821.8 L368.7 821.8 L370.3 821.7 L372.0 821.7 L373.6 821.7 L375.3 821.7 L377.0 821.7 L378.6 821.7 L380.3 821.7 L381.9 821.6 L383.6 821.6 L385.2 821.6 L386.9 821.6 L388.6 821.6 L390.2 821.6 L391.9 821.6 L393.5 821.6 L395.2 821.6 L396.9 821.6 L398.5 821.5 L400.2 821.5 L401.8 821.3 L403.5 820.9 L405.1 820.1 L406.8 818.9 L408.5 817.1 L410.1 814.7 L411.8 811.9 L413.4 809.1 L415.1 806.8 L416.7 805.5 L417.4 805.5 L418.4 805.5 L420.1 807.2 L421.7 809.6 L423.4 812.5 L425.0 815.2 L426.7 817.5 L428.3 819.2 L430.0 820.3 L431.7 821.0 L433.3 821.3 L435.0 821.5 L436.6 821.6 L438.3 821.6 L439.9 821.6 L441.6 821.6 L443.3 821.6 L444.9 821.6 L446.6 821.6 L448.2 821.6 L449.9 821.6 L451.5 821.6 L453.2 821.6 L454.9 821.6 L456.5 821.6 L458.2 821.6 L459.8 821.6 L461.5 821.6 L463.2 821.6 L464.8 821.6 L466.5 821.6 L468.1 821.6 L469.8 821.6 L471.4 821.6 L473.1 821.5 L474.8 821.5 L476.4 821.5 L478.1 821.5 L479.7 821.5 L481.4 821.5 L483.0 821.5 L484.7 821.5 L486.4 821.5 L488.0 821.5 L489.7 821.5 L491.3 821.5 L493.0 821.5 L494.6 821.4 L496.3 821.4 L498.0 821.4 L499.6 821.4 L501.3 821.4 L502.9 821.4 L504.6 821.4 L506.2 821.4 L507.9 821.4 L509.6 821.4 L511.2 821.4 L512.9 821.4 L514.5 821.4 L516.2 821.3 L517.8 821.3 L519.5 821.3 L521.2 821.3 L522.8 821.3 L524.5 821.3 L526.1 821.3 L527.8 821.3 L529.5 821.3 L531.1 821.2 L532.8 821.2 L534.4 821.2 L536.1 821.2 L537.7 821.1 L539.4 821.1 L541.1 821.1 L542.7 821.0 L544.4 821.0 L546.0 820.9 L547.7 820.8 L549.3 820.5 L551.0 820.2 L552.7 819.8 L554.3 819.2 L556.0 818.5 L557.6 817.8 L559.3 817.1 L560.9 816.6 L562.6 816.3 L563.3 816.3 L564.3 816.3 L565.9 816.6 L567.6 817.1 L569.2 817.8 L570.9 818.4 L572.5 819.1 L574.2 819.5 L575.9 819.9 L577.5 820.1 L579.2 820.3 L580.8 820.4 L582.5 820.4 L584.1 820.4 L585.8 820.4 L587.5 820.3 L589.1 820.3 L590.8 820.3 L592.4 820.3 L594.1 820.2 L595.8 820.2 L597.4 820.2 L599.1 820.2 L600.7 820.1 L602.4 820.1 L604.0 820.1 L605.7 820.1 L607.4 820.0 L609.0 820.0 L610.7 820.0 L612.3 820.0 L614.0 820.0 L615.6 820.0 L617.3 820.0 L619.0 820.0 L620.6 820.0 L622.3 820.1 L623.9 820.1 L625.6 820.1 L627.2 820.1 L628.9 820.1 L630.6 820.1 L632.2 820.1 L633.9 820.1 L635.5 820.1 L637.2 820.1 L638.8 820.1 L640.5 820.1 L642.2 820.1 L643.8 820.2 L645.5 820.2 L647.1 820.2 L648.8 820.2 L650.4 820.2 L652.1 820.2 L653.8 820.2 L655.4 820.2 L657.1 820.2 L658.7 820.2 L660.4 820.2 L662.1 820.2 L663.7 820.2 L665.4 820.3 L667.0 820.3 L668.7 820.3 L670.3 820.3 L672.0 820.3 L673.7 820.3 L675.3 820.3 L677.0 820.3 L678.6 820.3 L680.3 820.3 L681.9 820.3 L683.6 820.3 L685.3 820.3 L686.9 820.3 L688.6 820.4 L690.2 820.4 L691.9 820.4 L693.5 820.4 L695.2 820.4 L696.9 820.4 L698.5 820.4 L700.2 820.4 L701.8 820.4 L703.5 820.4 L705.1 820.4 L706.8 820.4 L708.5 820.4 L710.1 820.5 L711.8 820.5 L713.4 820.5 L715.1 820.5 L716.7 820.5 L718.4 820.5 L720.1 820.5 L721.7 820.4 L723.4 820.4 L725.0 820.4 L726.7 820.3 L728.4 820.2 L730.0 820.1 L731.7 820.0 L733.3 819.9 L735.0 819.8 L736.6 819.7 L738.3 819.6 L740.0 819.6 L740.6 819.6 L741.6 819.6 L743.3 819.7 L744.9 819.8 L746.6 819.9 L748.2 820.0 L749.9 820.1 L751.6 820.2 L753.2 820.4 L754.9 820.4 L756.5 820.5 L758.2 820.6 L759.8 820.6 L761.5 820.6 L763.2 820.7 L764.8 820.7 L766.5 820.7 L768.1 820.7 L769.8 820.7 L771.4 820.7 L773.1 820.7 L774.8 820.7 L776.4 820.7 L778.1 820.8 L779.7 820.8 L781.4 820.8 L783.0 820.8 L784.7 820.8 L786.4 820.8 L788.0 820.8 L789.7 820.8 L791.3 820.8 L793.0 820.8 L794.7 820.8 L796.3 820.8 L798.0 820.8 L799.6 820.9 L801.3 820.9 L802.9 820.9 L804.6 820.9 L806.3 820.9 L807.9 820.9 L809.6 820.9 L811.2 820.9 L812.9 820.9 L814.5 820.9 L816.2 820.9 L817.9 820.9 L819.5 820.9 L821.2 821.0 L822.8 821.0 L824.5 821.0 L826.1 821.0 L827.8 821.0 L829.5 821.0 L831.1 821.0 L832.8 821.0 L834.4 821.0 L836.1 821.0 L837.7 821.0 L839.4 821.0 L841.1 821.0 L842.7 821.0 L844.4 821.1 L846.0 821.1 L847.7 821.1 L849.3 821.1 L851.0 821.1 L852.7 821.1 L854.3 821.1 L856.0 821.1 L857.6 821.1 L859.3 821.1 L861.0 821.1 L862.6 821.1 L864.3 821.1 L865.9 821.2 L867.6 821.2 L869.2 821.2 L870.9 821.2 L872.6 821.2 L874.2 821.2 L875.9 821.2 L877.5 821.2 L879.2 821.2 L880.8 821.2 L882.5 821.2 L884.2 821.2 L885.8 821.2 L887.5 821.2 L889.1 821.3 L890.8 821.3 L892.4 821.3 L894.1 821.3 L895.8 821.3 L897.4 821.3 L899.1 821.3 L900.7 821.3 L902.4 821.3 L904.0 821.3 L905.7 821.3 L907.4 821.3 L909.0 821.3 L910.7 821.4 L912.3 821.4 L914.0 821.4 L915.6 821.4 L917.3 821.4 L919.0 821.4 L920.6 821.4 L922.3 821.4 L923.9 821.4 L925.6 821.4 L927.3 821.4 L928.9 821.4 L930.6 821.4 L932.2 821.4 L933.9 821.5 L935.5 821.5 L937.2 821.5 L938.9 821.5 L940.5 821.5 L942.2 821.5 L943.8 821.5 L945.5 821.5 L947.1 821.5 L948.8 821.5 L950.5 821.5 L952.1 821.5 L953.8 821.5 L955.4 821.6 L957.1 821.6 L958.7 821.6 L960.4 821.6 L962.1 821.6 L963.7 821.6 L965.4 821.6 L967.0 821.6 L968.7 821.6 L970.3 821.6 L972.0 821.6 L973.7 821.6 L975.3 821.6 L977.0 821.7 L978.6 821.7 L980.3 821.7 L981.9 821.7 L983.6 821.7 L985.3 821.7 L986.9 821.7 L988.6 821.7 L990.2 821.7 L991.9 821.7 L993.6 821.7 L995.2 821.7 L996.9 821.7 L998.5 821.7 L1000.2 821.8 L1001.8 821.8 L1003.5 821.8 L1005.2 821.8 L1006.8 821.8 L1008.5 821.8 L1010.1 821.8 L1011.8 821.8 L1013.4 821.8 L1015.1 821.8 L1016.8 821.8 L1018.4 821.8 L1020.1 821.8 L1021.7 821.9 L1023.4 821.9 L1025.0 821.9 L1026.7 821.9 L1028.4 821.9 L1030.0 821.9 L1031.7 821.9 L1033.3 821.9 L1035.0 821.9 L1036.6 821.9 L1038.3 821.9 L1040.0 821.8 L1041.6 821.8 L1043.3 821.8 L1044.9 821.8 L1046.6 821.8 L1048.2 821.8 L1049.9 821.8 L1051.6 821.8 L1053.2 821.8 L1054.9 821.8 L1056.5 821.7 L1058.2 821.7 L1059.9 821.7 L1061.5 821.7 L1063.2 821.7 L1064.8 821.7 L1066.5 821.7 L1068.1 821.7 L1069.8 821.7 L1071.5 821.6 L1073.1 821.6 L1074.8 821.6 L1076.4 821.6 L1078.1 821.6 L1079.7 821.6 L1081.4 821.6 L1083.1 821.6 L1084.7 821.6 L1086.4 821.5 L1088.0 821.5 L1089.7 821.5 L1091.3 821.5 L1093.0 821.5 L1094.7 821.5 L1096.3 821.5 L1098.0 821.5 L1099.6 821.5 L1101.3 821.4 L1102.9 821.4 L1104.6 821.4 L1106.3 821.4 L1107.9 821.4 L1109.6 821.4 L1111.2 821.4 L1112.9 821.4 L1114.5 821.4 L1116.2 821.3 L1117.9 821.3 L1119.5 821.3 L1121.2 821.3 L1122.8 821.3 L1124.5 821.3 L1126.2 821.3 L1127.8 821.4 L1129.5 821.4 L1131.1 821.4 L1132.8 821.4 L1134.4 821.5 L1136.1 821.5 L1137.8 821.5 L1139.4 821.5 L1141.1 821.6 L1142.7 821.6 L1144.4 821.6 L1146.0 821.6 L1147.7 821.6 L1149.4 821.6 L1151.0 821.5 L1152.7 821.3 L1154.3 821.0 L1156.0 820.5 L1157.6 819.5 L1159.3 818.0 L1161.0 815.7 L1162.6 812.1 L1164.3 806.7 L1165.9 799.1 L1167.6 788.5 L1169.2 774.1 L1170.9 755.4 L1172.6 731.7 L1174.2 702.8 L1175.9 668.8 L1177.5 630.2 L1179.2 588.1 L1180.8 544.3 L1182.5 500.8 L1184.2 460.2 L1185.8 425.1 L1187.5 398.0 L1189.1 380.9 L1190.8 375.0 L1190.8 375.0 L1192.5 380.9 L1194.1 398.1 L1195.8 425.3 L1197.4 460.4 L1199.1 501.0 L1200.7 544.6 L1202.4 588.5 L1204.1 630.6 L1205.7 669.3 L1207.4 703.3 L1209.0 732.3 L1210.7 756.0 L1212.3 774.7 L1214.0 789.1 L1215.7 799.8 L1217.3 807.5 L1219.0 812.9 L1220.6 816.6 L1222.3 819.0 L1223.9 820.5 L1225.6 821.5 L1227.3 822.1 L1228.9 822.4 L1230.6 822.6 L1232.2 822.8 L1233.9 822.9 L1235.5 822.9 L1237.2 823.0 L1238.9 823.0 L1240.5 823.0 L1242.2 823.1 L1243.8 823.1 L1245.5 823.1 L1247.1 823.2 L1248.8 823.2 L1250.5 823.3 L1252.1 823.3 L1253.8 823.3 L1255.4 823.4 L1257.1 823.4 L1258.8 823.4 L1260.4 823.4 L1262.1 823.4 L1263.7 823.4 L1265.4 823.3 L1267.0 823.2 L1268.7 822.9 L1270.4 822.5 L1272.0 821.8 L1273.7 820.9 L1275.3 819.6 L1277.0 817.8 L1278.6 815.5 L1280.3 812.6 L1282.0 809.0 L1283.6 804.7 L1285.3 799.8 L1286.9 794.5 L1288.6 788.8 L1290.2 783.2 L1291.9 777.8 L1293.6 773.0 L1295.2 769.1 L1296.9 766.4 L1298.5 765.0 L1299.2 765.0 L1300.2 765.0 L1301.8 767.0 L1303.5 770.0 L1305.2 774.2 L1306.8 779.2 L1308.5 784.7 L1310.1 790.5 L1311.8 796.2 L1313.4 801.5 L1315.1 806.4 L1316.8 810.6 L1318.4 814.1 L1320.1 817.0 L1321.7 819.3 L1323.4 821.0 L1325.1 822.4 L1326.7 823.3 L1328.4 824.0 L1330.0 824.4 L1331.7 824.8 L1333.3 825.0 L1335.0 825.1 L1336.7 825.3 L1338.3 825.3 L1340.0 825.4 L1341.6 825.4 L1343.3 825.5 L1344.9 825.5 L1346.6 825.6 L1348.3 825.6 L1349.9 825.7 L1351.6 825.7 L1353.2 825.7 L1354.9 825.8 L1356.5 825.8 L1358.2 825.8 L1359.9 825.8 L1361.5 825.8 L1363.2 825.8 L1364.8 825.8 L1366.5 825.8 L1368.1 825.8 L1369.8 825.8 L1371.5 825.8 L1373.1 825.8 L1374.8 825.8 L1376.4 825.8 L1378.1 825.8 L1379.7 825.8 L1381.4 825.8 L1383.1 825.8 L1384.7 825.8 L1386.4 825.8 L1388.0 825.8 L1389.7 825.8 L1391.4 825.8 L1393.0 825.8 L1394.7 825.8 L1396.3 825.8 L1398.0 825.8 L1399.6 825.8 L1401.3 825.8 L1403.0 825.8 L1404.6 825.8 L1406.3 825.8 L1407.9 825.8 L1409.6 825.8 L1411.2 825.8 L1412.9 825.8 L1414.6 825.8 L1416.2 825.8 L1417.9 825.8 L1419.5 825.8 L1421.2 825.8 L1422.8 825.8 L1424.5 825.8 L1426.2 825.8 L1427.8 825.8 L1429.5 825.8 L1431.1 825.8 L1432.8 825.8 L1434.4 825.8 L1436.1 825.8 L1437.8 825.8 L1439.4 825.8 L1441.1 825.8 L1442.7 825.8 L1444.4 825.8 L1446.0 825.8 L1447.7 825.8 L1449.4 825.8 L1451.0 825.8 L1452.7 825.8 L1454.3 825.8 L1456.0 825.8 L1457.7 825.8 L1459.3 825.8 L1461.0 825.8 L1462.6 825.8 L1464.3 825.8 L1465.9 825.8 L1467.6 825.8 L1469.3 825.8 L1470.9 825.8 L1472.6 825.8 L1474.2 825.8 L1475.9 825.8 L1477.5 825.8 L1479.2 825.8 L1480.9 825.8 L1482.5 825.8 L1484.2 825.8 L1485.8 825.8 L1487.5 825.8 L1489.1 825.8 L1490.8 825.8 L1492.5 825.8 L1494.1 825.8 L1495.8 825.8 L1497.4 825.8 L1499.1 825.8 L1500.7 825.8 L1502.4 825.8 L1504.1 825.8 L1505.7 825.8 L1507.4 825.8 L1509.0 825.8 L1510.7 825.8 L1512.3 825.8 L1514.0 825.8 L1515.7 825.8 L1517.3 825.8 L1519.0 825.8 L1520.6 825.7 L1522.3 825.6 L1524.0 825.3 L1525.6 825.0 L1527.3 824.5 L1528.9 823.7 L1530.6 822.6 L1532.2 821.0 L1533.9 818.8 L1535.6 815.9 L1537.2 812.0 L1538.9 807.1 L1540.5 801.1 L1542.2 793.8 L1543.8 785.5 L1545.5 776.1 L1547.2 765.9 L1548.8 755.4 L1550.5 745.0 L1552.1 735.1 L1553.8 726.4 L1555.4 719.4 L1557.1 714.6 L1558.8 712.0 L1559.4 712.0 L1560.4 712.0 L1562.1 715.4 L1563.7 720.7 L1565.4 728.1 L1567.0 737.1 L1568.7 747.1 L1570.4 757.6 L1572.0 768.1 L1573.7 778.1 L1575.3 787.3 L1577.0 795.5 L1578.6 802.5 L1580.3 808.3 L1582.0 813.0 L1583.6 816.7 L1585.3 819.5 L1586.9 821.6 L1588.6 823.1 L1590.3 824.2 L1591.9 824.9 L1593.6 825.4 L1595.2 825.7 L1596.9 825.9 L1598.5 826.0 L1600.2 826.1 L1601.9 826.1 L1603.5 826.2 L1605.2 826.2 L1606.8 826.2 L1608.5 826.2 L1610.1 826.2 L1611.8 826.2 L1613.5 826.2 L1615.1 826.2 L1616.8 826.3 L1618.4 826.3 L1620.1 826.3 L1621.7 826.3 L1623.4 826.3 L1625.1 826.3 L1626.7 826.3 L1628.4 826.3 L1630.0 826.3 L1631.7 826.3 L1633.3 826.3 L1635.0 826.3 L1636.7 826.3 L1638.3 826.3 L1640.0 826.3 L1641.6 826.4 L1643.3 826.4 L1644.9 826.4 L1646.6 826.4 L1648.3 826.4 L1649.9 826.4 L1651.6 826.4 L1653.2 826.4 L1654.9 826.4 L1656.6 826.4 L1658.2 826.4 L1659.9 826.4 L1661.5 826.4 L1663.2 826.4 L1664.8 826.4 L1666.5 826.4 L1668.2 826.5 L1669.8 826.5 L1671.5 826.5 L1673.1 826.5 L1674.8 826.5 L1676.4 826.4 L1678.1 826.4 L1679.8 826.4 L1681.4 826.3 L1683.1 826.3 L1684.7 826.1 L1686.4 825.9 L1688.0 825.7 L1689.7 825.3 L1691.4 824.9 L1693.0 824.3 L1694.7 823.6 L1696.3 822.7 L1698.0 821.7 L1699.6 820.6 L1701.3 819.3 L1703.0 818.0 L1704.6 816.6 L1706.3 815.2 L1707.9 813.9 L1709.6 812.8 L1711.2 811.9 L1712.9 811.3 L1714.6 811.0 L1715.2 811.0 L1716.2 811.0 L1717.9 811.4 L1719.5 812.1 L1721.2 813.1 L1722.9 814.2 L1724.5 815.5 L1726.2 816.9 L1727.8 818.3 L1729.5 819.7 L1731.1 821.0 L1732.8 822.1 L1734.5 823.1 L1736.1 823.9 L1737.8 824.6 L1739.4 825.2 L1741.1 825.6 L1742.7 826.0 L1744.4 826.2 L1746.1 826.4 L1747.7 826.5 L1749.4 826.6 L1751.0 826.7 L1752.7 826.7 L1754.3 826.8 L1756.0 826.8 L1757.7 826.8 L1759.3 826.8 L1761.0 826.8 L1762.6 826.8 L1764.3 826.8 L1765.9 826.9 L1767.6 826.9 L1769.3 826.9 L1770.9 826.9 L1772.6 826.9 L1774.2 826.9 L1775.9 826.9 L1777.5 826.9 L1779.2 826.9 L1780.9 826.9 L1782.5 826.9 L1784.2 826.9 L1785.8 826.9 L1787.5 826.9 L1789.2 826.9 L1790.8 827.0 L1792.5 827.0 L1794.1 827.0 L1795.8 827.0 L1797.4 827.0 L1799.1 827.0 L1800.8 827.0 L1802.4 827.0 L1804.1 827.0 L1805.7 827.0 L1807.4 827.0 L1809.0 827.0 L1810.7 827.0 L1812.4 827.0 L1814.0 827.0 L1815.7 827.1 L1817.3 827.1 L1819.0 827.1 L1820.6 827.1 L1822.3 827.1 L1824.0 827.1 L1825.6 827.1 L1827.3 827.1 L1828.9 827.1 L1830.6 827.1 L1832.2 827.1 L1833.9 827.1 L1835.6 827.1 L1837.2 827.1 L1838.9 827.1 L1840.5 827.2 L1842.2 827.2 L1843.8 827.2 L1845.5 827.2 L1847.2 827.2 L1848.8 827.2 L1850.5 827.2 L1852.1 827.2 L1853.8 827.2 L1855.5 827.2 L1857.1 827.2 L1858.8 827.2 L1860.4 827.2 L1862.1 827.2 L1863.7 827.2 L1865.4 827.3 L1867.1 827.3 L1868.7 827.3 L1870.4 827.3 L1872.0 827.3 L1873.7 827.3 L1875.3 827.3 L1877.0 827.3 L1878.7 827.3 L1880.3 827.3 L1882.0 827.3 L1883.6 827.3 L1885.3 827.3 L1886.9 827.3 L1888.6 827.3 L1890.3 827.4 L1891.9 827.4 L1893.6 827.4 L1895.2 827.4 L1896.9 827.4 L1898.5 827.4 L1900.2 827.4 L1901.9 827.4 L1903.5 827.4 L1905.2 827.4 L1906.8 827.4 L1908.5 827.4 L1910.1 827.4 L1911.8 827.4 L1913.5 827.4 L1915.1 827.5 L1916.8 827.5 L1918.4 827.5 L1920.1 827.5 L1921.8 827.5 L1923.4 827.5 L1925.1 827.5 L1926.7 827.5 L1928.4 827.5 L1930.0 827.5 L1931.7 827.5 L1933.4 827.5 L1935.0 827.5 L1936.7 827.5 L1938.3 827.5 L1940.0 827.6 L1941.6 827.6 L1943.3 827.6 L1945.0 827.6 L1946.6 827.6 L1948.3 827.6 L1949.9 827.6 L1951.6 827.6 L1953.2 827.6"/>
<use href="#c_red" transform="translate(0 -0.7)" opacity="0.5"/>
<use href="#c_red" transform="translate(0 0.7)" opacity="0.5"/>
</g>
<rect x="167.9" y="1178.0" width="13.5" height="34.0" fill="#ff0000"/>
<rect x="209.0" y="1178.0" width="13.5" height="34.0" fill="#ff00ff"/>
<rect x="238.8" y="1178.0" width="13.5" height="34.0" fill="#0000ff"/>
<rect x="241.0" y="1178.0" width="13.5" height="34.0" fill="#0000ff"/>
<rect x="289.7" y="1178.0" width="13.5" height="34.0" fill="#00ffff"/>
<rect x="410.4" y="1178.0" width="13.5" height="34.0" fill="#008000"/>
<rect x="426.3" y="1178.0" width="13.5" height="34.0" fill="#008000"/>
<rect x="556.5" y="1178.0" width="13.5" height="34.0" fill="#000000"/>
<rect x="1182.8" y="1178.0" width="13.5" height="34.0" fill="#0000ff"/>
<rect x="1291.8" y="1178.0" width="13.5" height="34.0" fill="#0000ff"/>
<rect x="1553.9" y="1178.0" width="13.5" height="34.0" fill="#00ffff"/>
<rect x="1708.5" y="1178.0" width="13.5" height="34.0" fill="#00ffff"/>
<rect x="167.9" y="1228.5" width="13.5" height="34.0" fill="#ff0000"/>
<rect x="209.0" y="1228.5" width="13.5" height="34.0" fill="#ff00ff"/>
<rect x="238.8" y="1228.5" width="13.5" height="34.0" fill="#0000ff"/>
<rect x="241.0" y="1228.5" width="13.5" height="34.0" fill="#0000ff"/>
<rect x="289.7" y="1228.5" width="13.5" height="34.0" fill="#00ffff"/>
<rect x="410.4" y="1228.5" width="13.5" height="34.0" fill="#008000"/>
<rect x="426.3" y="1228.5" width="13.5" height="34.0" fill="#008000"/>
<rect x="556.5" y="1228.5" width="13.5" height="34.0" fill="#000000"/>
<rect x="1182.8" y="1228.5" width="13.5" height="34.0" fill="#0000ff"/>
<rect x="1291.8" y="1228.5" width="13.5" height="34.0" fill="#0000ff"/>
<rect x="1553.9" y="1228.5" width="13.5" height="34.0" fill="#00ffff"/>
<rect x="1708.5" y="1228.5" width="13.5" height="34.0" fill="#00ffff"/>
<path d="M128.2 48 L128.2 1300.4 L1953 1300.4" fill="none" stroke="#000" stroke-width="7.6" stroke-linejoin="round" stroke-linecap="butt"/>
<line x1="128.2" y1="1300.4" x2="128.2" y2="1280.5" stroke="#000" stroke-width="7.6"/>
<line x1="211.9" y1="1300.4" x2="211.9" y2="1289.5" stroke="#000" stroke-width="2.4"/>
<line x1="294.8" y1="1300.4" x2="294.8" y2="1289.5" stroke="#000" stroke-width="2.4"/>
<line x1="377.6" y1="1300.4" x2="377.6" y2="1289.5" stroke="#000" stroke-width="2.4"/>
<line x1="460.5" y1="1300.4" x2="460.5" y2="1280.5" stroke="#000" stroke-width="7.6"/>
<line x1="543.4" y1="1300.4" x2="543.4" y2="1289.5" stroke="#000" stroke-width="2.4"/>
<line x1="626.2" y1="1300.4" x2="626.2" y2="1289.5" stroke="#000" stroke-width="2.4"/>
<line x1="709.1" y1="1300.4" x2="709.1" y2="1289.5" stroke="#000" stroke-width="2.4"/>
<line x1="792.0" y1="1300.4" x2="792.0" y2="1280.5" stroke="#000" stroke-width="7.6"/>
<line x1="874.9" y1="1300.4" x2="874.9" y2="1289.5" stroke="#000" stroke-width="2.4"/>
<line x1="957.8" y1="1300.4" x2="957.8" y2="1289.5" stroke="#000" stroke-width="2.4"/>
<line x1="1040.6" y1="1300.4" x2="1040.6" y2="1289.5" stroke="#000" stroke-width="2.4"/>
<line x1="1123.5" y1="1300.4" x2="1123.5" y2="1280.5" stroke="#000" stroke-width="7.6"/>
<line x1="1206.4" y1="1300.4" x2="1206.4" y2="1289.5" stroke="#000" stroke-width="2.4"/>
<line x1="1289.2" y1="1300.4" x2="1289.2" y2="1289.5" stroke="#000" stroke-width="2.4"/>
<line x1="1372.1" y1="1300.4" x2="1372.1" y2="1289.5" stroke="#000" stroke-width="2.4"/>
<line x1="1455.0" y1="1300.4" x2="1455.0" y2="1280.5" stroke="#000" stroke-width="7.6"/>
<line x1="1537.9" y1="1300.4" x2="1537.9" y2="1289.5" stroke="#000" stroke-width="2.4"/>
<line x1="1620.8" y1="1300.4" x2="1620.8" y2="1289.5" stroke="#000" stroke-width="2.4"/>
<line x1="1703.6" y1="1300.4" x2="1703.6" y2="1289.5" stroke="#000" stroke-width="2.4"/>
<line x1="1786.5" y1="1300.4" x2="1786.5" y2="1280.5" stroke="#000" stroke-width="7.6"/>
<line x1="1869.4" y1="1300.4" x2="1869.4" y2="1289.5" stroke="#000" stroke-width="2.4"/>
<line x1="1952.2" y1="1300.4" x2="1952.2" y2="1289.5" stroke="#000" stroke-width="2.4"/>
<text x="129.0" y="1386.8" text-anchor="middle" font-family="'DejaVu Serif', 'Liberation Serif', serif" font-size="74.5" fill="#000">0</text>
<text x="460.5" y="1386.8" text-anchor="middle" font-family="'DejaVu Serif', 'Liberation Serif', serif" font-size="74.5" fill="#000">2</text>
<text x="792.0" y="1386.8" text-anchor="middle" font-family="'DejaVu Serif', 'Liberation Serif', serif" font-size="74.5" fill="#000">4</text>
<text x="1455.0" y="1386.8" text-anchor="middle" font-family="'DejaVu Serif', 'Liberation Serif', serif" font-size="74.5" fill="#000">8</text>
<text x="1786.5" y="1386.8" text-anchor="middle" font-family="'DejaVu Serif', 'Liberation Serif', serif" font-size="74.5" fill="#000">10</text>
<text x="1040.5" y="1443.1" text-anchor="middle" font-family="'DejaVu Serif', 'Liberation Serif', serif" font-size="74.5" fill="#000">E (keV)</text>
<text transform="translate(92.2 673.0) rotate(-90)" text-anchor="middle" font-family="'DejaVu Serif', 'Liberation Serif', serif" font-size="74.5" fill="#000">Intensity (a. u.)</text>
<line x1="1824.8" y1="160.3" x2="1898.2" y2="160.3" stroke="#ff0000" stroke-width="13.6"/>
<text x="1933.6" y="184.1" font-family="'DejaVu Serif', 'Liberation Serif', serif" font-size="74.5" fill="#000">MW-30</text>
<line x1="1824.8" y1="285.4" x2="1898.2" y2="285.4" stroke="#008000" stroke-width="13.6"/>
<text x="1933.6" y="311.1" font-family="'DejaVu Serif', 'Liberation Serif', serif" font-size="74.5" fill="#000">MW-20</text>
<line x1="1824.8" y1="410.0" x2="1898.2" y2="410.0" stroke="#0000ff" stroke-width="13.6"/>
<text x="1933.6" y="436.0" font-family="'DejaVu Serif', 'Liberation Serif', serif" font-size="74.5" fill="#000">MW-10</text>
<line x1="1824.8" y1="535.4" x2="1898.2" y2="535.4" stroke="#000000" stroke-width="13.6"/>
<text x="1933.6" y="560.6" font-family="'DejaVu Serif', 'Liberation Serif', serif" font-size="74.5" fill="#000">MW-5</text>
<rect x="2000.5" y="798.3" width="14.2" height="55.6" fill="#000000"/>
<text x="2044" y="848.9" font-family="'DejaVu Serif', 'Liberation Serif', serif" font-size="74.5" fill="#000">Cl</text>
<rect x="2000.5" y="886.0" width="14.2" height="55.6" fill="#ff0000"/>
<text x="2044" y="936.4" font-family="'DejaVu Serif', 'Liberation Serif', serif" font-size="74.5" fill="#000">C</text>
<rect x="2000.5" y="973.7" width="14.2" height="55.6" fill="#008000"/>
<text x="2044" y="1023.8" font-family="'DejaVu Serif', 'Liberation Serif', serif" font-size="74.5" fill="#000">Si</text>
<rect x="2000.5" y="1061.3" width="14.2" height="55.6" fill="#00ffff"/>
<text x="2044" y="1111.2" font-family="'DejaVu Serif', 'Liberation Serif', serif" font-size="74.5" fill="#000">Zn</text>
<rect x="2000.5" y="1149.0" width="14.2" height="55.6" fill="#ff00ff"/>
<text x="2044" y="1198.7" font-family="'DejaVu Serif', 'Liberation Serif', serif" font-size="74.5" fill="#000">O</text>
<rect x="2000.5" y="1236.7" width="14.2" height="55.6" fill="#0000ff"/>
<text x="2044" y="1286.2" font-family="'DejaVu Serif', 'Liberation Serif', serif" font-size="74.5" fill="#000">Fe</text>
</g>
<use href="#content" filter="url(#soft)" opacity="0.5"/>
</svg>
</body></html>
